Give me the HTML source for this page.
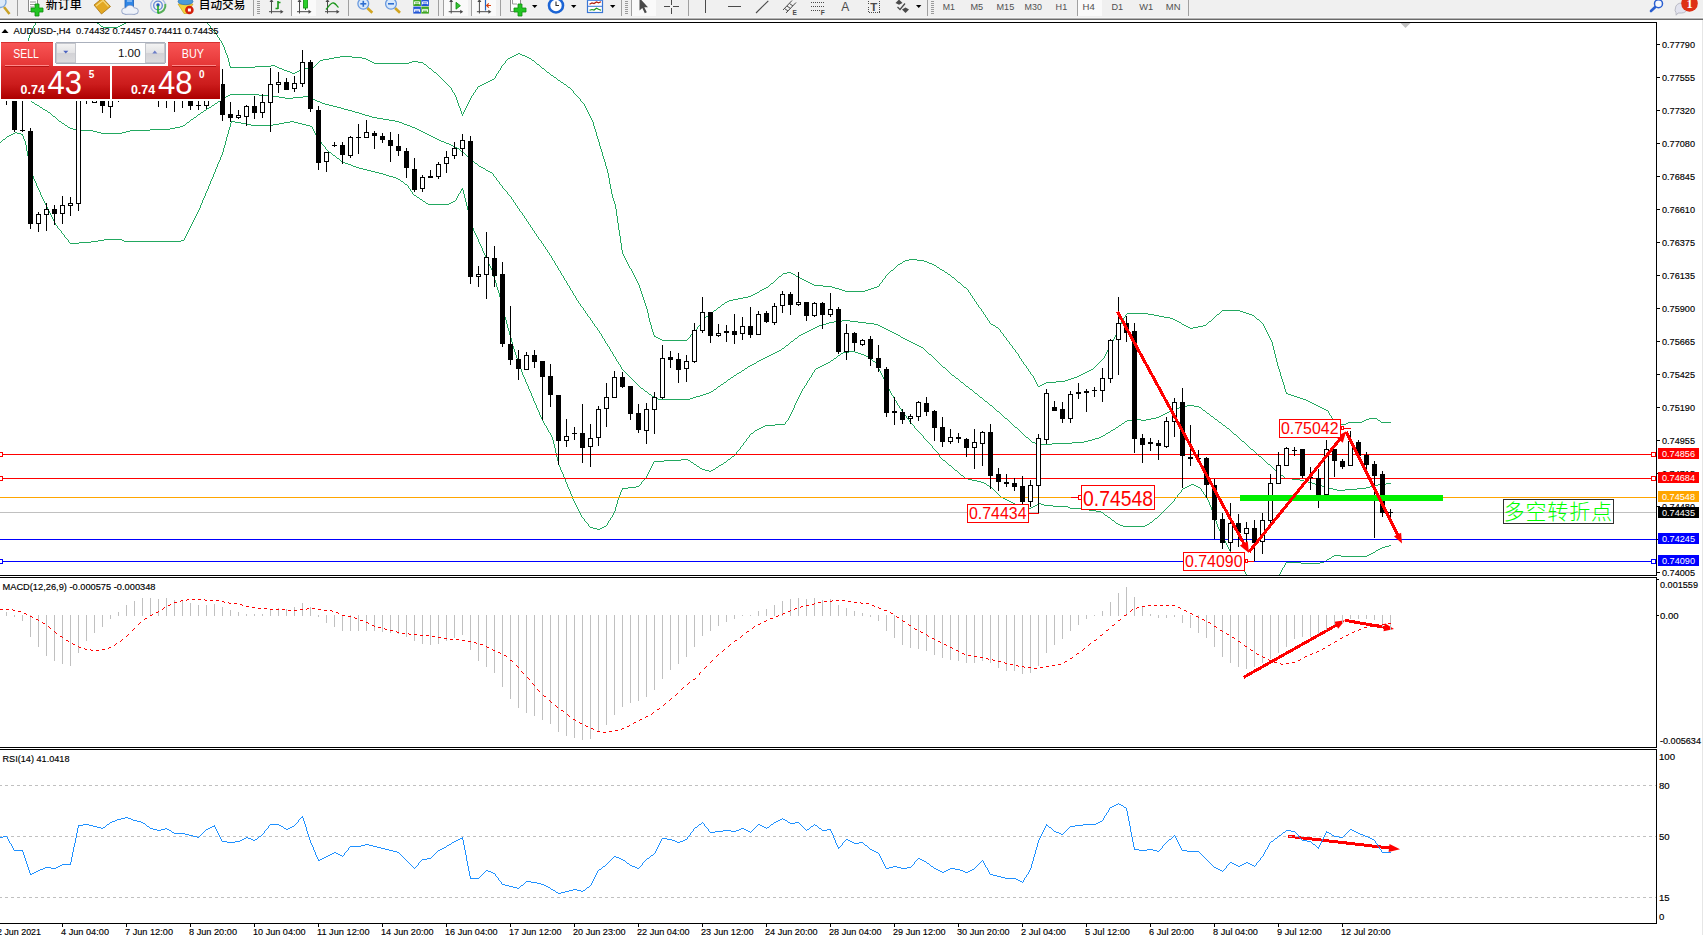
<!DOCTYPE html>
<html><head><meta charset="utf-8"><title>AUDUSD H4</title>
<style>
html,body{margin:0;padding:0;background:#fff}
body{width:1703px;height:935px;overflow:hidden;position:relative;font-family:"Liberation Sans","Noto Sans CJK SC",sans-serif}
#chart{position:absolute;left:0;top:0}
#chart text{font-family:"Liberation Sans","Noto Sans CJK SC",sans-serif}
#tb{position:absolute;left:0;top:0;width:1703px;height:17px;background:#f0f0f0;overflow:hidden}
#tbl{position:absolute;left:0;top:17px;width:1703px;height:3px;background:linear-gradient(#f6f6f6 0,#f6f6f6 33.3%,#b4b4b4 33.3%,#b4b4b4 66.6%,#6a6a6a 66.6%)}
#redge{position:absolute;left:1702px;top:20px;width:1px;height:915px;background:#e6e6e6}
</style></head><body>
<div id="tb"><svg width="1703" height="17" viewBox="0 0 1703 17" style="position:absolute;left:0;top:0;font-family:'Liberation Sans','Noto Sans CJK SC',sans-serif"><line x1="4" y1="7" x2="9.5" y2="14" stroke="#c9a227" stroke-width="2.5"/><circle cx="0.5" cy="2" r="5.5" fill="#dbe9f8" stroke="#7aa6dc" stroke-width="1.3"/><rect x="17" y="0" width="1" height="16" fill="#a0a0a0" shape-rendering="crispEdges"/><path d="M28.5 -2H37.5V11.5H28.5Z" fill="#fff" stroke="#8a8a8a"/><path d="M30 2H36M30 4.5H36M30 7H34" stroke="#9a9a9a" stroke-width="1"/><path d="M35 4H39V8H43V12H39V16H35V12H31V8H35Z" fill="#22c522" stroke="#0d8a0d" stroke-width="0.8"/><text x="45.8" y="9" font-size="12" font-weight="500" fill="#000" textLength="36" lengthAdjust="spacingAndGlyphs">新订单</text><path d="M94 5L102.5 -2L110.5 6.5L101.5 14Z" fill="#e3a823" stroke="#a87410" stroke-width="0.8"/><path d="M96 6L103 0.5L108.5 6.5" fill="none" stroke="#f6d778" stroke-width="1.2"/><rect x="125" y="-2" width="8.5" height="10" fill="#2f86e6" stroke="#1b5fb8" stroke-width="0.8"/><path d="M127 1H132" stroke="#cfe4fb" stroke-width="1"/><g fill="#eef2f9" stroke="#8a9cc4" stroke-width="1.6"><ellipse cx="125.5" cy="11" rx="3.300" ry="2.800"/><ellipse cx="130" cy="9.300" rx="4" ry="3.600"/><ellipse cx="134.500" cy="11" rx="3.300" ry="2.800"/><rect x="125.500" y="10.500" width="9" height="3.300"/></g><g fill="#eef2f9"><ellipse cx="125.5" cy="11" rx="3.300" ry="2.800"/><ellipse cx="130" cy="9.300" rx="4" ry="3.600"/><ellipse cx="134.500" cy="11" rx="3.300" ry="2.800"/><rect x="125.500" y="10.500" width="9" height="3.300"/></g><circle cx="158" cy="5.5" r="7.3" fill="none" stroke="#a9bce6" stroke-width="1.3"/><circle cx="158" cy="5.5" r="4.3" fill="none" stroke="#5f86d6" stroke-width="1.3"/><path d="M158 13A7.5 7.5 0 0 0 165.3 4" fill="none" stroke="#58b058" stroke-width="2"/><circle cx="158" cy="5" r="1.7" fill="#1f4fc4"/><path d="M158 5.5V13.5" stroke="#1fae1f" stroke-width="1.6"/><path d="M178 4H193L187 13.5H184Z" fill="#f2d33c" stroke="#c9a21c" stroke-width="0.7"/><ellipse cx="185.5" cy="1.5" rx="7.5" ry="3.2" fill="#4a9ad8" stroke="#2a70b4" stroke-width="0.7"/><circle cx="189.4" cy="10" r="4.3" fill="#d4200c"/><rect x="187.9" y="8.5" width="3" height="3" fill="#fff"/><text x="198.8" y="9" font-size="12" font-weight="500" fill="#000" textLength="46.5" lengthAdjust="spacingAndGlyphs">自动交易</text><rect x="253" y="0" width="1" height="16" fill="#a0a0a0" shape-rendering="crispEdges"/><rect x="257" y="1" width="3" height="1" fill="#9a9a9a" shape-rendering="crispEdges"/><rect x="257" y="3" width="3" height="1" fill="#9a9a9a" shape-rendering="crispEdges"/><rect x="257" y="5" width="3" height="1" fill="#9a9a9a" shape-rendering="crispEdges"/><rect x="257" y="7" width="3" height="1" fill="#9a9a9a" shape-rendering="crispEdges"/><rect x="257" y="9" width="3" height="1" fill="#9a9a9a" shape-rendering="crispEdges"/><rect x="257" y="11" width="3" height="1" fill="#9a9a9a" shape-rendering="crispEdges"/><rect x="257" y="13" width="3" height="1" fill="#9a9a9a" shape-rendering="crispEdges"/><path d="M271.5 0V13.5M269.0 11.7H282.0" stroke="#4a4a4a" stroke-width="1" fill="none"/><polygon points="280.5,9.7 283.5,11.7 280.5,13.7" fill="#4a4a4a"/><polygon points="269.5,2 271.5,-1 273.5,2" fill="#4a4a4a"/><path d="M278 1V9M275.5 8.5H278M278 2.5H280.5" stroke="#1a961a" stroke-width="1.6" fill="none"/><rect x="291" y="0" width="1" height="16" fill="#a0a0a0" shape-rendering="crispEdges"/><rect x="292" y="0" width="24" height="16" fill="#fafafa" shape-rendering="crispEdges"/><path d="M299.5 0V13.5M297.0 11.7H310.0" stroke="#4a4a4a" stroke-width="1" fill="none"/><polygon points="308.5,9.7 311.5,11.7 308.5,13.7" fill="#4a4a4a"/><polygon points="297.5,2 299.5,-1 301.5,2" fill="#4a4a4a"/><path d="M305.5 0V10" stroke="#0d7a0d" stroke-width="1"/><rect x="303.5" y="-1" width="4" height="9" fill="#2bd02b" stroke="#0d8a0d" stroke-width="0.8"/><path d="M327.5 0V13.5M325.0 11.7H338.0" stroke="#4a4a4a" stroke-width="1" fill="none"/><polygon points="336.5,9.7 339.5,11.7 336.5,13.7" fill="#4a4a4a"/><polygon points="325.5,2 327.5,-1 329.5,2" fill="#4a4a4a"/><path d="M326 9.5C329 6 331 2.5 333.5 3S336.500 6 338.5 7.500" stroke="#1a961a" stroke-width="1.3" fill="none"/><rect x="348" y="0" width="1" height="16" fill="#a0a0a0" shape-rendering="crispEdges"/><line x1="367.3" y1="8" x2="372.3" y2="12.8" stroke="#d2a520" stroke-width="2.6"/><circle cx="363.3" cy="3.8" r="5.4" fill="#d9e9fa" stroke="#6a9adf" stroke-width="1.3"/><path d="M360.3 3.8H366.3" stroke="#2f6fd0" stroke-width="1.6"/><path d="M363.3 0.8V6.8" stroke="#2f6fd0" stroke-width="1.6"/><line x1="395" y1="8" x2="400" y2="12.8" stroke="#d2a520" stroke-width="2.6"/><circle cx="391" cy="3.8" r="5.4" fill="#d9e9fa" stroke="#6a9adf" stroke-width="1.3"/><path d="M388 3.8H394" stroke="#2f6fd0" stroke-width="1.6"/><rect x="413.3" y="-1" width="7.6" height="7" fill="#3fa624"/><rect x="421.3" y="-1" width="7.6" height="7" fill="#2457d6"/><rect x="413.3" y="6.600" width="7.6" height="7" fill="#2457d6"/><rect x="421.3" y="6.600" width="7.6" height="7" fill="#3fa624"/><path d="M414.5 4.3V1.8H419.5V4.3M414.5 3.2H419.5" stroke="#fff" stroke-width="0.9" fill="none"/><path d="M414.5 11.899999999999999V9.4H419.5V11.899999999999999M414.5 10.8H419.5" stroke="#fff" stroke-width="0.9" fill="none"/><path d="M422.5 4.3V1.8H427.5V4.3M422.5 3.2H427.5" stroke="#fff" stroke-width="0.9" fill="none"/><path d="M422.5 11.899999999999999V9.4H427.5V11.899999999999999M422.5 10.8H427.5" stroke="#fff" stroke-width="0.9" fill="none"/><rect x="438" y="0" width="1" height="16" fill="#a0a0a0" shape-rendering="crispEdges"/><rect x="443" y="0" width="1" height="16" fill="#a0a0a0" shape-rendering="crispEdges"/><rect x="444" y="0" width="24" height="16" fill="#fafafa" shape-rendering="crispEdges"/><path d="M451.2 0V13.5M448.7 11.7H461.7" stroke="#4a4a4a" stroke-width="1" fill="none"/><polygon points="460.2,9.7 463.2,11.7 460.2,13.7" fill="#4a4a4a"/><polygon points="449.2,2 451.2,-1 453.2,2" fill="#4a4a4a"/><polygon points="456,2.3 456,9.2 460.4,5.700" fill="#35c435" stroke="#0d8a0d" stroke-width="0.8"/><rect x="471" y="0" width="1" height="16" fill="#a0a0a0" shape-rendering="crispEdges"/><rect x="472" y="0" width="24" height="16" fill="#fafafa" shape-rendering="crispEdges"/><path d="M479.4 0V13.5M476.9 11.7H489.9" stroke="#4a4a4a" stroke-width="1" fill="none"/><polygon points="488.4,9.7 491.4,11.7 488.4,13.7" fill="#4a4a4a"/><polygon points="477.4,2 479.4,-1 481.4,2" fill="#4a4a4a"/><path d="M485.500 0V10.500" stroke="#1f63c4" stroke-width="1.2"/><path d="M491 5.500H487M488.800 3.300L486.600 5.500L488.800 7.700" stroke="#d8400c" stroke-width="1.2" fill="none"/><rect x="500" y="0" width="1" height="16" fill="#a0a0a0" shape-rendering="crispEdges"/><path d="M510.500 -2H520.500V11.500H510.500Z" fill="#fff" stroke="#8a8a8a"/><path d="M512.500 -1V4H517" stroke="#9a9a9a" stroke-width="1" fill="none"/><path d="M518 4H522V8H526V12H522V16H518V12H514V8H518Z" fill="#22c522" stroke="#0d8a0d" stroke-width="0.8"/><polygon points="532,5 537.4,5 534.7,8" fill="#000"/><circle cx="556" cy="5.500" r="7" fill="#fff" stroke="#1c64d4" stroke-width="2.600"/><path d="M556 1.500V5.500H559" stroke="#333" stroke-width="1.1" fill="none"/><polygon points="571,5 576.4,5 573.7,8" fill="#000"/><rect x="587.500" y="-1.500" width="15" height="14" fill="#fff" stroke="#3a76d4" stroke-width="1.2"/><path d="M588 6.300H602" stroke="#3a76d4" stroke-width="1"/><rect x="587.500" y="-1.500" width="15" height="2.500" fill="#5a92e6"/><path d="M589.500 4.300L592 3L594 3.600L596.500 2L598.500 2.800L601 1.800" stroke="#b01c0c" stroke-width="1.2" fill="none"/><path d="M589.500 10.300L592 9.500L594 10L596.500 8.200L598.500 9.300L601 10.300" stroke="#1a961a" stroke-width="1.2" fill="none"/><polygon points="610,5 615.4,5 612.7,8" fill="#000"/><rect x="621" y="0" width="1" height="16" fill="#a0a0a0" shape-rendering="crispEdges"/><rect x="625" y="1" width="3" height="1" fill="#9a9a9a" shape-rendering="crispEdges"/><rect x="625" y="3" width="3" height="1" fill="#9a9a9a" shape-rendering="crispEdges"/><rect x="625" y="5" width="3" height="1" fill="#9a9a9a" shape-rendering="crispEdges"/><rect x="625" y="7" width="3" height="1" fill="#9a9a9a" shape-rendering="crispEdges"/><rect x="625" y="9" width="3" height="1" fill="#9a9a9a" shape-rendering="crispEdges"/><rect x="625" y="11" width="3" height="1" fill="#9a9a9a" shape-rendering="crispEdges"/><rect x="625" y="13" width="3" height="1" fill="#9a9a9a" shape-rendering="crispEdges"/><rect x="631" y="0" width="1" height="16" fill="#a0a0a0" shape-rendering="crispEdges"/><rect x="632" y="0" width="24" height="16" fill="#fafafa" shape-rendering="crispEdges"/><path d="M639.500 -2V10.500L642.300 8L644.800 13.300L646.800 12.300L644.300 7.200H648Z" fill="#4a4a4a"/><path d="M664 6.500H670M673 6.500H679M671.500 -1V5M671.500 8V14" stroke="#4a4a4a" stroke-width="1" shape-rendering="crispEdges"/><rect x="688" y="0" width="1" height="16" fill="#a0a0a0" shape-rendering="crispEdges"/><path d="M705.500 0V12.500M728 6.500H740.500" stroke="#4a4a4a" stroke-width="1" shape-rendering="crispEdges"/><path d="M756 13L768.300 0.800" stroke="#4a4a4a" stroke-width="1.1"/><path d="M783 10L792 0.500M786 13L796 2.500M784.500 8.500L788 11M787 6L790.500 8.500M789.500 3.500L793 6" stroke="#4a4a4a" stroke-width="1"/><text x="792.500" y="14.500" font-size="6.500" font-weight="bold" fill="#4a4a4a">E</text><path d="M811 2.5H824.500" stroke="#4a4a4a" stroke-width="1" stroke-dasharray="1 1" shape-rendering="crispEdges"/><path d="M811 6.5H824.500" stroke="#4a4a4a" stroke-width="1" stroke-dasharray="1 1" shape-rendering="crispEdges"/><path d="M811 10.5H824.500" stroke="#4a4a4a" stroke-width="1" stroke-dasharray="1 1" shape-rendering="crispEdges"/><rect x="820" y="9" width="6" height="7" fill="#f0f0f0"/><text x="820.800" y="14.500" font-size="6.500" font-weight="bold" fill="#4a4a4a">F</text><text x="841.300" y="11" font-size="12" fill="#4a4a4a">A</text><rect x="868.500" y="-0.500" width="11" height="13" fill="none" stroke="#4a4a4a" stroke-width="1" stroke-dasharray="1 1" shape-rendering="crispEdges"/><text x="870.300" y="10.800" font-size="11.500" font-weight="bold" fill="#4a4a4a">T</text><polygon points="895.500,3 899,-0.500 902.500,3 899,4.800" fill="#4a4a4a"/><polygon points="902,9.500 905.500,7.500 909,9.500 905.500,13" fill="#4a4a4a"/><path d="M897.500 7L900 9.500L905 3.500" stroke="#4a4a4a" stroke-width="1.3" fill="none"/><polygon points="916,5 921.4,5 918.7,8" fill="#000"/><rect x="927" y="0" width="1" height="16" fill="#a0a0a0" shape-rendering="crispEdges"/><rect x="931" y="1" width="3" height="1" fill="#9a9a9a" shape-rendering="crispEdges"/><rect x="931" y="3" width="3" height="1" fill="#9a9a9a" shape-rendering="crispEdges"/><rect x="931" y="5" width="3" height="1" fill="#9a9a9a" shape-rendering="crispEdges"/><rect x="931" y="7" width="3" height="1" fill="#9a9a9a" shape-rendering="crispEdges"/><rect x="931" y="9" width="3" height="1" fill="#9a9a9a" shape-rendering="crispEdges"/><rect x="931" y="11" width="3" height="1" fill="#9a9a9a" shape-rendering="crispEdges"/><rect x="931" y="13" width="3" height="1" fill="#9a9a9a" shape-rendering="crispEdges"/><rect x="1077" y="0" width="1" height="16" fill="#a0a0a0" shape-rendering="crispEdges"/><rect x="1078" y="0" width="24" height="16" fill="#fafafa" shape-rendering="crispEdges"/><text x="942.8" y="9.800" font-size="9.600" fill="#505050" textLength="12.2" lengthAdjust="spacingAndGlyphs">M1</text><text x="970.5" y="9.800" font-size="9.600" fill="#505050" textLength="12.7" lengthAdjust="spacingAndGlyphs">M5</text><text x="996.5" y="9.800" font-size="9.600" fill="#505050" textLength="17.7" lengthAdjust="spacingAndGlyphs">M15</text><text x="1024.6" y="9.800" font-size="9.600" fill="#505050" textLength="17.4" lengthAdjust="spacingAndGlyphs">M30</text><text x="1055.6" y="9.800" font-size="9.600" fill="#505050" textLength="11.6" lengthAdjust="spacingAndGlyphs">H1</text><text x="1082.5" y="9.800" font-size="9.600" fill="#505050" textLength="12.2" lengthAdjust="spacingAndGlyphs">H4</text><text x="1111.5" y="9.800" font-size="9.600" fill="#505050" textLength="11.7" lengthAdjust="spacingAndGlyphs">D1</text><text x="1139.2" y="9.800" font-size="9.600" fill="#505050" textLength="13.9" lengthAdjust="spacingAndGlyphs">W1</text><text x="1165.8" y="9.800" font-size="9.600" fill="#505050" textLength="14.7" lengthAdjust="spacingAndGlyphs">MN</text><rect x="1188" y="0" width="1" height="16" fill="#a0a0a0" shape-rendering="crispEdges"/><line x1="1655.800" y1="6.500" x2="1651" y2="11" stroke="#2a5fd0" stroke-width="2.600" stroke-linecap="round"/><circle cx="1658.500" cy="3.700" r="4" fill="#f6f8fd" stroke="#2a5fd0" stroke-width="1.500"/><path d="M1675.500 8a6 5 0 1 1 6 5l-3.500 0l-1.800 2.200l-0.200-2.600a6 5 0 0 1-0.500-4.600Z" fill="#e2e3ee" stroke="#b4b5c0" stroke-width="0.900"/><circle cx="1689.500" cy="3.500" r="8.300" fill="#de3015"/><text x="1689.500" y="8" font-size="12.500" font-weight="bold" font-family="'Liberation Serif',serif" fill="#fff" text-anchor="middle">1</text></svg></div><div id="tbl"></div><div id="redge"></div>
<svg id="chart" width="1703" height="935" viewBox="0 0 1703 935">
<defs><clipPath id="cm"><rect x="0" y="23" width="1656" height="552"/></clipPath><clipPath id="cd"><rect x="0" y="578" width="1656" height="169"/></clipPath><clipPath id="cr"><rect x="0" y="750" width="1656" height="173"/></clipPath></defs>
<g clip-path="url(#cm)" shape-rendering="crispEdges">
<rect x="0" y="512" width="1656" height="1" fill="#c0c0c0"/>
<path d="M26.5 44v2M27.5 41v3M28.5 38v3M29.5 35v3M30.5 32v3M31.5 30v2M32.5 28v2M33.5 26v2M34.5 25v1M35.5 23v2M36.5 22v1" stroke="#22a860" stroke-width="1" fill="none"/>
<path d="M97 23.5h2M124 23.5h2M122 24.5h2M120 25.5h2M101 26.5h2M118 26.5h2M103 27.5h15M96.5 22v1M99.5 24v1M100.5 25v1M126.5 22v1" stroke="#22a860" stroke-width="1" fill="none"/>
<path d="M518 53.5h2M516 54.5h2M520 54.5h2M514 55.5h2M522 55.5h3M340 56.5h12M512 56.5h2M525 56.5h2M334 57.5h6M352 57.5h10M510 57.5h2M527 57.5h2M329 58.5h5M362 58.5h4M508 58.5h2M529 58.5h2M323 59.5h6M366 59.5h2M320 60.5h3M368 60.5h2M532 60.5h2M370 61.5h2M412 61.5h6M372 62.5h2M409 62.5h3M418 62.5h5M374 63.5h35M424 64.5h2M537 64.5h2M271 65.5h4M255 66.5h16M275 66.5h2M230 67.5h25M277 67.5h2M311 67.5h3M279 68.5h3M305 68.5h6M429 68.5h2M542 68.5h2M282 69.5h2M301 69.5h4M284 70.5h3M299 70.5h2M287 71.5h3M297 71.5h2M290 72.5h2M295 72.5h2M434 72.5h2M547 72.5h2M292 73.5h3M551 75.5h2M554 77.5h2M492 79.5h2M490 80.5h2M558 80.5h2M488 81.5h2M486 82.5h2M561 82.5h2M484 83.5h2M482 84.5h2M564 84.5h2M480 85.5h2M478 86.5h2M568 87.5h2M909 259.5h8M905 260.5h4M917 260.5h7M903 261.5h2M924 261.5h3M927 262.5h2M900 263.5h2M929 263.5h3M898 264.5h2M932 264.5h2M934 265.5h2M937 267.5h2M940 269.5h2M891 270.5h2M942 270.5h2M787 272.5h4M945 272.5h2M783 273.5h4M791 273.5h2M793 274.5h2M948 274.5h2M779 276.5h2M796 276.5h2M798 277.5h2M952 277.5h2M800 278.5h2M802 279.5h2M804 280.5h2M806 281.5h2M808 282.5h2M958 282.5h2M771 283.5h2M810 283.5h2M812 284.5h2M814 285.5h9M823 286.5h9M877 286.5h2M766 287.5h2M832 287.5h3M874 287.5h3M964 287.5h2M764 288.5h2M835 288.5h4M871 288.5h3M762 289.5h2M839 289.5h3M868 289.5h3M760 290.5h2M842 290.5h3M865 290.5h3M845 291.5h20M757 292.5h2M755 293.5h2M753 294.5h2M751 295.5h2M748 296.5h3M743 297.5h5M738 298.5h5M733 299.5h5M729 300.5h4M727 301.5h2M725 302.5h2M722 304.5h2M718 307.5h2M714 310.5h2M1222 310.5h18M1240 311.5h3M1243 312.5h3M710 313.5h2M1127 313.5h21M1246 313.5h3M1148 314.5h6M1217 314.5h2M1249 314.5h3M1154 315.5h5M1252 315.5h2M706 316.5h2M1159 316.5h5M1164 317.5h6M1170 318.5h3M1173 319.5h2M1257 319.5h2M1175 320.5h2M1177 321.5h2M1209 321.5h2M1179 322.5h2M991 324.5h2M1182 324.5h2M993 325.5h2M1184 325.5h2M1203 325.5h3M1186 326.5h2M1198 326.5h5M996 327.5h2M1188 327.5h2M1193 327.5h5M1190 328.5h3M654 336.5h2M656 337.5h2M658 338.5h2M660 339.5h2M662 340.5h25M1091 369.5h2M1089 370.5h2M1087 371.5h2M1085 372.5h2M1083 373.5h2M1081 374.5h2M1079 375.5h2M1077 376.5h2M1074 377.5h3M1071 378.5h3M1068 379.5h3M1065 380.5h3M1056 381.5h9M1046 382.5h10M1044 383.5h2M1042 384.5h2M1040 385.5h2M1038 386.5h2M1286 393.5h2M1288 394.5h3M1291 395.5h3M1294 396.5h3M1297 397.5h3M1300 398.5h3M1303 399.5h3M1306 400.5h2M1308 401.5h2M1310 402.5h2M1312 403.5h2M1314 404.5h2M1316 405.5h2M1318 406.5h2M1320 407.5h2M1322 408.5h2M1324 409.5h2M1326 410.5h2M1369 418.5h8M1333 419.5h2M1366 419.5h3M1364 420.5h2M1378 420.5h2M1336 421.5h2M1362 421.5h2M1348 422.5h14M1381 422.5h10M1339 423.5h2M1346 423.5h2M1341 424.5h5M206.5 22v1M207.5 23v1M208.5 24v1M209.5 25v1M210.5 26v2M211.5 28v1M212.5 29v1M213.5 30v1M214.5 31v1M215.5 32v1M216.5 33v2M217.5 35v2M218.5 37v1M219.5 38v2M220.5 40v1M221.5 41v2M222.5 43v2M223.5 45v2M224.5 47v3M225.5 50v3M226.5 53v2M227.5 55v3M228.5 58v4M229.5 62v4M230.5 66v1M314.5 66v1M315.5 65v1M316.5 64v1M317.5 63v1M318.5 62v1M319.5 61v1M423.5 63v1M426.5 65v1M427.5 66v1M428.5 67v1M431.5 69v1M432.5 70v1M433.5 71v1M436.5 73v1M437.5 74v1M438.5 75v1M439.5 76v1M440.5 77v1M441.5 78v1M442.5 79v1M443.5 80v1M444.5 81v1M445.5 82v1M446.5 83v1M447.5 84v1M448.5 85v1M449.5 86v1M450.5 87v1M451.5 88v2M452.5 90v2M453.5 92v1M454.5 93v2M455.5 95v2M456.5 97v3M457.5 100v3M458.5 103v3M459.5 106v2M460.5 108v3M461.5 111v3M462.5 114v2M463.5 112v2M464.5 110v2M465.5 108v2M466.5 106v2M467.5 104v2M468.5 102v2M469.5 100v2M470.5 98v2M471.5 96v2M472.5 95v1M473.5 93v2M474.5 92v1M475.5 90v2M476.5 89v1M477.5 87v2M494.5 78v1M495.5 76v2M496.5 74v2M497.5 73v1M498.5 71v2M499.5 70v1M500.5 68v2M501.5 66v2M502.5 65v1M503.5 64v1M504.5 63v1M505.5 61v2M506.5 60v1M507.5 59v1M531.5 59v1M534.5 61v1M535.5 62v1M536.5 63v1M539.5 65v1M540.5 66v1M541.5 67v1M544.5 69v1M545.5 70v1M546.5 71v1M549.5 73v1M550.5 74v1M553.5 76v1M556.5 78v1M557.5 79v1M560.5 81v1M563.5 83v1M566.5 85v1M567.5 86v1M570.5 88v1M571.5 89v1M572.5 90v1M573.5 91v2M574.5 93v1M575.5 94v1M576.5 95v1M577.5 96v1M578.5 97v1M579.5 98v1M580.5 99v2M581.5 101v1M582.5 102v1M583.5 103v1M584.5 104v2M585.5 106v2M586.5 108v2M587.5 110v2M588.5 112v2M589.5 114v2M590.5 116v2M591.5 118v2M592.5 120v2M593.5 122v4M594.5 126v3M595.5 129v3M596.5 132v4M597.5 136v3M598.5 139v3M599.5 142v4M600.5 146v3M601.5 149v3M602.5 152v4M603.5 156v3M604.5 159v3M605.5 162v4M606.5 166v3M607.5 169v4M608.5 173v5M609.5 178v6M610.5 184v5M611.5 189v5M612.5 194v4M613.5 198v3M614.5 201v3M615.5 204v5M616.5 209v7M617.5 216v7M618.5 223v7M619.5 230v6M620.5 236v7M621.5 243v7M622.5 250v4M623.5 254v2M624.5 256v2M625.5 258v2M626.5 260v2M627.5 262v2M628.5 264v2M629.5 266v2M630.5 268v1M631.5 269v2M632.5 271v2M633.5 273v2M634.5 275v2M635.5 277v2M636.5 279v2M637.5 281v2M638.5 283v2M639.5 285v3M640.5 288v3M641.5 291v3M642.5 294v3M643.5 297v3M644.5 300v3M645.5 303v3M646.5 306v3M647.5 309v4M648.5 313v5M649.5 318v4M650.5 322v3M651.5 325v4M652.5 329v3M653.5 332v3M654.5 335v1M687.5 339v1M688.5 338v1M689.5 337v1M690.5 335v2M691.5 334v1M692.5 333v1M693.5 332v1M694.5 331v1M695.5 330v1M696.5 329v1M697.5 327v2M698.5 326v1M699.5 325v1M700.5 323v2M701.5 322v1M702.5 321v1M703.5 319v2M704.5 318v1M705.5 317v1M708.5 315v1M709.5 314v1M712.5 312v1M713.5 311v1M716.5 309v1M717.5 308v1M720.5 306v1M721.5 305v1M724.5 303v1M759.5 291v1M768.5 286v1M769.5 285v1M770.5 284v1M773.5 282v1M774.5 281v1M775.5 280v1M776.5 279v1M777.5 278v1M778.5 277v1M781.5 275v1M782.5 274v1M795.5 275v1M879.5 284v2M880.5 283v1M881.5 282v1M882.5 280v2M883.5 279v1M884.5 278v1M885.5 276v2M886.5 275v1M887.5 274v1M888.5 273v1M889.5 272v1M890.5 271v1M893.5 269v1M894.5 268v1M895.5 267v1M896.5 266v1M897.5 265v1M902.5 262v1M936.5 266v1M939.5 268v1M944.5 271v1M947.5 273v1M950.5 275v1M951.5 276v1M954.5 278v1M955.5 279v1M956.5 280v1M957.5 281v1M960.5 283v1M961.5 284v1M962.5 285v1M963.5 286v1M966.5 288v1M967.5 289v1M968.5 290v2M969.5 292v1M970.5 293v2M971.5 295v1M972.5 296v2M973.5 298v1M974.5 299v2M975.5 301v1M976.5 302v2M977.5 304v1M978.5 305v2M979.5 307v1M980.5 308v1M981.5 309v2M982.5 311v1M983.5 312v2M984.5 314v1M985.5 315v2M986.5 317v1M987.5 318v2M988.5 320v1M989.5 321v2M990.5 323v1M995.5 326v1M998.5 328v1M999.5 329v1M1000.5 330v2M1001.5 332v1M1002.5 333v1M1003.5 334v2M1004.5 336v1M1005.5 337v1M1006.5 338v2M1007.5 340v1M1008.5 341v1M1009.5 342v2M1010.5 344v1M1011.5 345v1M1012.5 346v2M1013.5 348v1M1014.5 349v1M1015.5 350v2M1016.5 352v1M1017.5 353v1M1018.5 354v2M1019.5 356v2M1020.5 358v1M1021.5 359v2M1022.5 361v1M1023.5 362v2M1024.5 364v1M1025.5 365v1M1026.5 366v2M1027.5 368v1M1028.5 369v2M1029.5 371v1M1030.5 372v2M1031.5 374v1M1032.5 375v1M1033.5 376v2M1034.5 378v2M1035.5 380v2M1036.5 382v2M1037.5 384v2M1093.5 368v1M1094.5 367v1M1095.5 366v1M1096.5 365v1M1097.5 364v1M1098.5 363v1M1099.5 362v1M1100.5 361v1M1101.5 360v1M1102.5 359v1M1103.5 358v1M1104.5 356v2M1105.5 354v2M1106.5 352v2M1107.5 350v2M1108.5 348v2M1109.5 346v2M1110.5 345v1M1111.5 343v2M1112.5 341v2M1113.5 339v2M1114.5 337v2M1115.5 335v2M1116.5 333v2M1117.5 331v2M1118.5 329v2M1119.5 327v2M1120.5 324v3M1121.5 322v2M1122.5 320v2M1123.5 318v2M1124.5 317v1M1125.5 315v2M1126.5 314v1M1181.5 323v1M1206.5 324v1M1207.5 323v1M1208.5 322v1M1211.5 320v1M1212.5 319v1M1213.5 318v1M1214.5 317v1M1215.5 316v1M1216.5 315v1M1219.5 313v1M1220.5 312v1M1221.5 311v1M1254.5 316v1M1255.5 317v1M1256.5 318v1M1259.5 320v1M1260.5 321v1M1261.5 322v1M1262.5 323v1M1263.5 324v2M1264.5 326v2M1265.5 328v2M1266.5 330v2M1267.5 332v2M1268.5 334v2M1269.5 336v2M1270.5 338v2M1271.5 340v2M1272.5 342v4M1273.5 346v4M1274.5 350v4M1275.5 354v4M1276.5 358v4M1277.5 362v4M1278.5 366v3M1279.5 369v3M1280.5 372v4M1281.5 376v3M1282.5 379v3M1283.5 382v3M1284.5 385v4M1285.5 389v3M1286.5 392v1M1328.5 411v2M1329.5 413v2M1330.5 415v1M1331.5 416v2M1332.5 418v1M1335.5 420v1M1338.5 422v1M1377.5 419v1M1380.5 421v1" stroke="#22a860" stroke-width="1" fill="none"/>
<path d="M16 91.5h2M19 93.5h2M230 94.5h29M22 95.5h2M228 95.5h2M259 95.5h14M226 96.5h2M273 96.5h6M303 96.5h6M279 97.5h6M293 97.5h10M309 97.5h2M26 98.5h2M223 98.5h2M285 98.5h8M311 98.5h2M313 99.5h2M29 100.5h2M220 100.5h2M315 100.5h2M218 101.5h2M317 101.5h3M32 102.5h2M320 102.5h2M215 103.5h2M322 103.5h3M35 104.5h2M325 104.5h4M37 105.5h2M212 105.5h2M329 105.5h4M333 106.5h4M40 107.5h2M209 107.5h2M337 107.5h4M207 108.5h2M341 108.5h3M43 109.5h2M344 109.5h4M45 110.5h2M204 110.5h2M348 110.5h4M352 111.5h3M48 112.5h2M201 112.5h2M355 112.5h4M359 113.5h3M198 114.5h2M362 114.5h3M365 115.5h4M53 116.5h2M369 116.5h3M194 117.5h2M372 117.5h5M377 118.5h6M191 119.5h2M383 119.5h6M389 120.5h6M59 121.5h2M395 121.5h4M187 122.5h2M399 122.5h3M62 123.5h2M402 123.5h2M404 124.5h3M65 125.5h2M183 125.5h2M407 125.5h3M180 126.5h3M410 126.5h2M68 127.5h2M175 127.5h5M412 127.5h3M70 128.5h3M170 128.5h5M415 128.5h2M73 129.5h5M150 129.5h20M417 129.5h2M78 130.5h15M130 130.5h20M419 130.5h2M93 131.5h4M126 131.5h4M421 131.5h2M97 132.5h4M122 132.5h4M423 132.5h2M101 133.5h21M425 133.5h2M427 134.5h2M429 135.5h2M431 136.5h2M433 137.5h2M435 138.5h2M437 139.5h2M439 140.5h2M441 141.5h3M444 142.5h2M446 143.5h3M449 144.5h2M451 145.5h2M453 146.5h2M455 147.5h2M457 148.5h2M462 152.5h2M470 159.5h2M475 163.5h2M479 166.5h2M481 167.5h2M483 168.5h2M486 170.5h2M488 171.5h2M490 172.5h2M842 320.5h8M834 321.5h8M850 321.5h8M829 322.5h5M858 322.5h8M826 323.5h3M866 323.5h8M822 324.5h4M874 324.5h4M819 325.5h3M878 325.5h2M817 326.5h2M880 326.5h2M815 327.5h2M882 327.5h2M813 328.5h2M884 328.5h2M811 329.5h2M886 329.5h2M809 330.5h2M888 330.5h2M807 331.5h2M890 331.5h2M805 332.5h2M892 332.5h2M803 333.5h2M894 333.5h2M801 334.5h2M896 334.5h2M799 335.5h2M898 335.5h2M901 337.5h2M795 338.5h2M903 338.5h2M905 339.5h2M907 340.5h2M791 341.5h2M909 341.5h2M911 342.5h2M913 343.5h2M915 344.5h2M786 345.5h2M917 345.5h2M919 346.5h2M921 347.5h2M782 348.5h2M779 350.5h2M777 351.5h2M775 352.5h2M773 353.5h2M771 354.5h2M929 354.5h2M769 355.5h2M767 356.5h2M765 357.5h2M763 358.5h2M761 359.5h2M759 360.5h2M757 361.5h2M754 363.5h2M752 364.5h2M750 365.5h2M748 366.5h2M943 367.5h2M745 368.5h2M742 370.5h2M739 372.5h2M737 373.5h2M734 375.5h2M952 375.5h2M731 377.5h2M956 378.5h2M728 379.5h2M724 382.5h2M961 382.5h2M721 384.5h2M718 386.5h2M966 386.5h2M641 388.5h2M714 389.5h2M970 389.5h2M645 391.5h2M711 391.5h2M709 392.5h2M706 393.5h3M975 393.5h2M649 394.5h2M703 394.5h3M700 395.5h3M652 396.5h2M696 396.5h4M654 397.5h2M693 397.5h3M980 397.5h2M656 398.5h2M690 398.5h3M658 399.5h32M985 401.5h2M990 405.5h2M1187 405.5h7M1183 406.5h4M1194 406.5h5M1179 407.5h4M1199 407.5h2M1175 408.5h4M1173 409.5h2M1171 410.5h2M1203 410.5h2M997 411.5h2M1169 411.5h2M1167 412.5h2M1165 413.5h2M1207 413.5h2M1163 414.5h2M1161 415.5h2M1159 416.5h2M1211 416.5h2M1156 417.5h3M1005 418.5h2M1151 418.5h5M1133 419.5h8M1146 419.5h5M1215 419.5h2M1127 420.5h6M1141 420.5h5M1125 421.5h2M1219 422.5h2M1122 423.5h2M1119 425.5h2M1223 425.5h2M1015 427.5h2M1116 427.5h2M1227 428.5h2M1113 429.5h2M1111 430.5h2M1108 432.5h2M1106 433.5h2M1234 434.5h2M1103 435.5h2M1101 436.5h2M1026 437.5h2M1099 437.5h2M1095 438.5h4M1092 439.5h3M1088 440.5h4M1084 441.5h4M1242 441.5h2M1032 442.5h3M1072 442.5h12M1035 443.5h5M1052 443.5h20M1040 444.5h12M1251 449.5h2M1259 456.5h2M1268 464.5h2M1275 470.5h2M1281 475.5h2M1285 478.5h7M1292 479.5h8M1300 480.5h4M1304 481.5h4M1308 482.5h4M1312 483.5h3M1386 483.5h5M1315 484.5h4M1378 484.5h8M1319 485.5h3M1374 485.5h4M1322 486.5h3M1370 486.5h4M1325 487.5h4M1366 487.5h4M1329 488.5h4M1357 488.5h9M1333 489.5h4M1345 489.5h12M1337 490.5h8M0.5 75v1M1.5 76v1M2.5 77v1M3.5 78v1M4.5 79v1M5.5 80v1M6.5 81v1M7.5 82v1M8.5 83v1M9.5 84v1M10.5 85v1M11.5 86v1M12.5 87v1M13.5 88v1M14.5 89v1M15.5 90v1M18.5 92v1M21.5 94v1M24.5 96v1M25.5 97v1M28.5 99v1M31.5 101v1M34.5 103v1M39.5 106v1M42.5 108v1M47.5 111v1M50.5 113v1M51.5 114v1M52.5 115v1M55.5 117v1M56.5 118v1M57.5 119v1M58.5 120v1M61.5 122v1M64.5 124v1M67.5 126v1M185.5 124v1M186.5 123v1M189.5 121v1M190.5 120v1M193.5 118v1M196.5 116v1M197.5 115v1M200.5 113v1M203.5 111v1M206.5 109v1M211.5 106v1M214.5 104v1M217.5 102v1M222.5 99v1M225.5 97v1M459.5 149v1M460.5 150v1M461.5 151v1M464.5 153v1M465.5 154v1M466.5 155v1M467.5 156v1M468.5 157v1M469.5 158v1M472.5 160v1M473.5 161v1M474.5 162v1M477.5 164v1M478.5 165v1M485.5 169v1M492.5 173v1M493.5 174v2M494.5 176v1M495.5 177v1M496.5 178v2M497.5 180v1M498.5 181v1M499.5 182v2M500.5 184v1M501.5 185v1M502.5 186v2M503.5 188v1M504.5 189v1M505.5 190v1M506.5 191v1M507.5 192v2M508.5 194v1M509.5 195v1M510.5 196v1M511.5 197v2M512.5 199v1M513.5 200v2M514.5 202v1M515.5 203v2M516.5 205v1M517.5 206v2M518.5 208v1M519.5 209v2M520.5 211v1M521.5 212v1M522.5 213v2M523.5 215v1M524.5 216v2M525.5 218v1M526.5 219v2M527.5 221v1M528.5 222v2M529.5 224v1M530.5 225v2M531.5 227v1M532.5 228v2M533.5 230v1M534.5 231v2M535.5 233v1M536.5 234v2M537.5 236v1M538.5 237v2M539.5 239v1M540.5 240v1M541.5 241v2M542.5 243v1M543.5 244v2M544.5 246v1M545.5 247v2M546.5 249v1M547.5 250v2M548.5 252v1M549.5 253v2M550.5 255v1M551.5 256v2M552.5 258v2M553.5 260v1M554.5 261v2M555.5 263v2M556.5 265v1M557.5 266v2M558.5 268v2M559.5 270v1M560.5 271v2M561.5 273v2M562.5 275v1M563.5 276v2M564.5 278v2M565.5 280v1M566.5 281v2M567.5 283v2M568.5 285v1M569.5 286v2M570.5 288v2M571.5 290v1M572.5 291v2M573.5 293v2M574.5 295v1M575.5 296v2M576.5 298v2M577.5 300v1M578.5 301v2M579.5 303v1M580.5 304v2M581.5 306v1M582.5 307v1M583.5 308v2M584.5 310v1M585.5 311v2M586.5 313v1M587.5 314v2M588.5 316v1M589.5 317v1M590.5 318v2M591.5 320v1M592.5 321v2M593.5 323v1M594.5 324v2M595.5 326v1M596.5 327v1M597.5 328v2M598.5 330v1M599.5 331v2M600.5 333v1M601.5 334v2M602.5 336v2M603.5 338v1M604.5 339v2M605.5 341v2M606.5 343v1M607.5 344v2M608.5 346v1M609.5 347v2M610.5 349v2M611.5 351v1M612.5 352v2M613.5 354v2M614.5 356v1M615.5 357v2M616.5 359v2M617.5 361v1M618.5 362v2M619.5 364v1M620.5 365v2M621.5 367v2M622.5 369v1M623.5 370v1M624.5 371v1M625.5 372v1M626.5 373v1M627.5 374v1M628.5 375v1M629.5 376v1M630.5 377v1M631.5 378v1M632.5 379v1M633.5 380v1M634.5 381v1M635.5 382v1M636.5 383v1M637.5 384v1M638.5 385v1M639.5 386v1M640.5 387v1M643.5 389v1M644.5 390v1M647.5 392v1M648.5 393v1M651.5 395v1M713.5 390v1M716.5 388v1M717.5 387v1M720.5 385v1M723.5 383v1M726.5 381v1M727.5 380v1M730.5 378v1M733.5 376v1M736.5 374v1M741.5 371v1M744.5 369v1M747.5 367v1M756.5 362v1M781.5 349v1M784.5 347v1M785.5 346v1M788.5 344v1M789.5 343v1M790.5 342v1M793.5 340v1M794.5 339v1M797.5 337v1M798.5 336v1M900.5 336v1M923.5 348v1M924.5 349v1M925.5 350v1M926.5 351v1M927.5 352v1M928.5 353v1M931.5 355v1M932.5 356v1M933.5 357v1M934.5 358v1M935.5 359v1M936.5 360v1M937.5 361v1M938.5 362v1M939.5 363v1M940.5 364v1M941.5 365v1M942.5 366v1M945.5 368v1M946.5 369v1M947.5 370v1M948.5 371v1M949.5 372v1M950.5 373v1M951.5 374v1M954.5 376v1M955.5 377v1M958.5 379v1M959.5 380v1M960.5 381v1M963.5 383v1M964.5 384v1M965.5 385v1M968.5 387v1M969.5 388v1M972.5 390v1M973.5 391v1M974.5 392v1M977.5 394v1M978.5 395v1M979.5 396v1M982.5 398v1M983.5 399v1M984.5 400v1M987.5 402v1M988.5 403v1M989.5 404v1M992.5 406v1M993.5 407v1M994.5 408v1M995.5 409v1M996.5 410v1M999.5 412v1M1000.5 413v1M1001.5 414v1M1002.5 415v1M1003.5 416v1M1004.5 417v1M1007.5 419v1M1008.5 420v1M1009.5 421v1M1010.5 422v1M1011.5 423v1M1012.5 424v1M1013.5 425v1M1014.5 426v1M1017.5 428v1M1018.5 429v1M1019.5 430v1M1020.5 431v1M1021.5 432v1M1022.5 433v1M1023.5 434v1M1024.5 435v1M1025.5 436v1M1028.5 438v1M1029.5 439v1M1030.5 440v1M1031.5 441v1M1105.5 434v1M1110.5 431v1M1115.5 428v1M1118.5 426v1M1121.5 424v1M1124.5 422v1M1201.5 408v1M1202.5 409v1M1205.5 411v1M1206.5 412v1M1209.5 414v1M1210.5 415v1M1213.5 417v1M1214.5 418v1M1217.5 420v1M1218.5 421v1M1221.5 423v1M1222.5 424v1M1225.5 426v1M1226.5 427v1M1229.5 429v1M1230.5 430v1M1231.5 431v1M1232.5 432v1M1233.5 433v1M1236.5 435v1M1237.5 436v1M1238.5 437v1M1239.5 438v1M1240.5 439v1M1241.5 440v1M1244.5 442v1M1245.5 443v1M1246.5 444v1M1247.5 445v1M1248.5 446v1M1249.5 447v1M1250.5 448v1M1253.5 450v1M1254.5 451v1M1255.5 452v1M1256.5 453v1M1257.5 454v1M1258.5 455v1M1261.5 457v1M1262.5 458v1M1263.5 459v1M1264.5 460v1M1265.5 461v1M1266.5 462v1M1267.5 463v1M1270.5 465v1M1271.5 466v1M1272.5 467v1M1273.5 468v1M1274.5 469v1M1277.5 471v1M1278.5 472v1M1279.5 473v1M1280.5 474v1M1283.5 476v1M1284.5 477v1" stroke="#22a860" stroke-width="1" fill="none"/>
<path d="M231 121.5h4M290 121.5h4M235 122.5h6M284 122.5h6M294 122.5h4M241 123.5h5M279 123.5h5M298 123.5h4M246 124.5h5M273 124.5h6M302 124.5h4M251 125.5h22M306 125.5h4M310 126.5h2M15 132.5h2M13 133.5h2M17 133.5h4M11 134.5h2M21 134.5h2M9 135.5h2M7 136.5h2M3 139.5h2M329 152.5h2M333 155.5h2M337 158.5h2M341 161.5h2M343 162.5h2M345 163.5h3M348 164.5h3M351 165.5h2M353 166.5h3M356 167.5h3M359 168.5h4M363 169.5h4M367 170.5h4M371 171.5h4M375 172.5h4M379 173.5h4M383 174.5h3M386 175.5h3M389 176.5h4M393 177.5h3M396 178.5h2M398 179.5h2M401 181.5h2M405 184.5h2M461 189.5h2M414 195.5h2M417 197.5h2M420 199.5h2M423 201.5h2M453 201.5h2M451 202.5h2M426 203.5h2M449 203.5h2M428 204.5h21M104 239.5h18M98 240.5h6M122 240.5h2M181 240.5h3M91 241.5h7M124 241.5h57M79 242.5h12M70 243.5h9M849 351.5h6M843 352.5h6M855 352.5h3M841 353.5h2M858 353.5h3M861 354.5h3M838 355.5h2M864 355.5h2M866 356.5h2M834 358.5h2M869 358.5h2M831 360.5h2M873 361.5h2M828 362.5h2M826 363.5h2M824 364.5h2M822 365.5h2M820 366.5h2M818 367.5h2M816 368.5h2M775 424.5h10M765 425.5h10M763 426.5h2M761 427.5h2M759 428.5h2M757 429.5h2M755 430.5h2M751 433.5h2M732 456.5h2M681 459.5h7M728 459.5h2M664 460.5h17M688 460.5h2M943 460.5h2M654 461.5h10M691 462.5h2M724 462.5h2M694 464.5h2M721 464.5h2M719 465.5h2M949 465.5h2M697 466.5h2M716 467.5h2M700 468.5h2M702 469.5h3M713 469.5h2M705 470.5h4M711 470.5h2M955 470.5h2M709 471.5h2M961 475.5h2M965 478.5h3M968 479.5h4M972 480.5h5M977 481.5h4M981 482.5h3M984 483.5h2M1191 484.5h3M987 485.5h2M1189 485.5h2M1194 485.5h2M636 486.5h3M1187 486.5h2M1196 486.5h2M628 487.5h8M990 487.5h2M1185 487.5h2M1198 487.5h2M622 488.5h6M1183 488.5h2M1001 497.5h2M1003 498.5h2M1005 499.5h2M1007 500.5h2M1009 501.5h2M1011 502.5h2M1013 503.5h2M1039 503.5h2M1015 504.5h2M1037 504.5h2M1041 504.5h3M1017 505.5h4M1035 505.5h2M1044 505.5h9M1021 506.5h4M1033 506.5h2M1053 506.5h15M1025 507.5h4M1031 507.5h2M1068 507.5h2M1029 508.5h2M1070 508.5h14M1084 509.5h5M1089 510.5h7M1096 511.5h5M1101 512.5h2M1105 515.5h2M1108 517.5h2M1155 518.5h2M1112 520.5h2M1150 522.5h2M1116 523.5h2M1118 524.5h2M1147 524.5h2M1120 525.5h3M1145 525.5h2M604 526.5h2M1123 526.5h22M590 527.5h3M602 527.5h2M593 528.5h4M600 528.5h2M597 529.5h3M1389 545.5h2M1385 546.5h4M1382 547.5h3M1380 548.5h2M1378 549.5h2M1376 550.5h2M1373 552.5h2M1371 553.5h2M1369 554.5h2M1334 555.5h7M1367 555.5h2M1332 556.5h2M1341 556.5h26M1329 558.5h2M1327 559.5h2M1324 561.5h2M1286 562.5h15M1320 562.5h4M1301 563.5h19M1250 582.5h26M0.5 142v1M1.5 141v1M2.5 140v1M5.5 138v1M6.5 137v1M22.5 135v1M23.5 136v3M24.5 139v2M25.5 141v4M26.5 145v6M27.5 151v5M28.5 156v4M29.5 160v4M30.5 164v4M31.5 168v4M32.5 172v4M33.5 176v3M34.5 179v2M35.5 181v2M36.5 183v3M37.5 186v2M38.5 188v2M39.5 190v2M40.5 192v3M41.5 195v2M42.5 197v2M43.5 199v2M44.5 201v2M45.5 203v2M46.5 205v2M47.5 207v2M48.5 209v2M49.5 211v2M50.5 213v2M51.5 215v2M52.5 217v2M53.5 219v2M54.5 221v2M55.5 223v2M56.5 225v1M57.5 226v2M58.5 228v1M59.5 229v1M60.5 230v1M61.5 231v2M62.5 233v1M63.5 234v1M64.5 235v2M65.5 237v1M66.5 238v1M67.5 239v1M68.5 240v2M69.5 242v1M184.5 238v2M185.5 236v2M186.5 234v2M187.5 232v2M188.5 230v2M189.5 228v2M190.5 226v2M191.5 224v2M192.5 222v2M193.5 220v2M194.5 218v2M195.5 216v2M196.5 214v2M197.5 212v2M198.5 210v2M199.5 208v2M200.5 205v3M201.5 203v2M202.5 200v3M203.5 198v2M204.5 196v2M205.5 193v3M206.5 191v2M207.5 189v2M208.5 186v3M209.5 184v2M210.5 181v3M211.5 179v2M212.5 177v2M213.5 174v3M214.5 172v2M215.5 169v3M216.5 167v2M217.5 164v3M218.5 162v2M219.5 160v2M220.5 157v3M221.5 155v2M222.5 152v3M223.5 148v4M224.5 145v3M225.5 141v4M226.5 137v4M227.5 134v3M228.5 130v4M229.5 127v3M230.5 123v4M231.5 122v1M312.5 127v2M313.5 129v2M314.5 131v2M315.5 133v2M316.5 135v1M317.5 136v2M318.5 138v1M319.5 139v2M320.5 141v1M321.5 142v2M322.5 144v1M323.5 145v1M324.5 146v1M325.5 147v2M326.5 149v1M327.5 150v1M328.5 151v1M331.5 153v1M332.5 154v1M335.5 156v1M336.5 157v1M339.5 159v1M340.5 160v1M400.5 180v1M403.5 182v1M404.5 183v1M407.5 185v1M408.5 186v2M409.5 188v1M410.5 189v2M411.5 191v1M412.5 192v2M413.5 194v1M416.5 196v1M419.5 198v1M422.5 200v1M425.5 202v1M455.5 200v1M456.5 198v2M457.5 196v2M458.5 194v2M459.5 193v1M460.5 191v2M461.5 190v1M462.5 188v1M463.5 190v4M464.5 194v4M465.5 198v4M466.5 202v4M467.5 206v4M468.5 210v3M469.5 213v4M470.5 217v4M471.5 221v3M472.5 224v4M473.5 228v3M474.5 231v2M475.5 233v2M476.5 235v2M477.5 237v2M478.5 239v3M479.5 242v2M480.5 244v2M481.5 246v2M482.5 248v3M483.5 251v2M484.5 253v2M485.5 255v2M486.5 257v2M487.5 259v3M488.5 262v2M489.5 264v2M490.5 266v2M491.5 268v2M492.5 270v3M493.5 273v4M494.5 277v3M495.5 280v3M496.5 283v4M497.5 287v3M498.5 290v3M499.5 293v4M500.5 297v4M501.5 301v4M502.5 305v4M503.5 309v4M504.5 313v4M505.5 317v3M506.5 320v4M507.5 324v4M508.5 328v3M509.5 331v4M510.5 335v3M511.5 338v4M512.5 342v4M513.5 346v3M514.5 349v3M515.5 352v3M516.5 355v3M517.5 358v3M518.5 361v2M519.5 363v3M520.5 366v3M521.5 369v3M522.5 372v3M523.5 375v2M524.5 377v2M525.5 379v3M526.5 382v2M527.5 384v2M528.5 386v3M529.5 389v2M530.5 391v2M531.5 393v3M532.5 396v2M533.5 398v3M534.5 401v2M535.5 403v2M536.5 405v3M537.5 408v2M538.5 410v2M539.5 412v3M540.5 415v2M541.5 417v2M542.5 419v2M543.5 421v2M544.5 423v2M545.5 425v1M546.5 426v2M547.5 428v2M548.5 430v2M549.5 432v1M550.5 433v2M551.5 435v2M552.5 437v3M553.5 440v4M554.5 444v4M555.5 448v5M556.5 453v4M557.5 457v4M558.5 461v4M559.5 465v2M560.5 467v3M561.5 470v2M562.5 472v2M563.5 474v3M564.5 477v2M565.5 479v3M566.5 482v2M567.5 484v3M568.5 487v2M569.5 489v2M570.5 491v3M571.5 494v2M572.5 496v3M573.5 499v2M574.5 501v2M575.5 503v2M576.5 505v2M577.5 507v2M578.5 509v2M579.5 511v2M580.5 513v2M581.5 515v2M582.5 517v1M583.5 518v1M584.5 519v2M585.5 521v1M586.5 522v1M587.5 523v1M588.5 524v2M589.5 526v1M606.5 525v1M607.5 523v2M608.5 521v2M609.5 520v1M610.5 518v2M611.5 517v1M612.5 515v2M613.5 513v2M614.5 511v2M615.5 507v4M616.5 504v3M617.5 500v4M618.5 497v3M619.5 495v2M620.5 492v3M621.5 490v2M622.5 489v1M639.5 485v1M640.5 484v1M641.5 482v2M642.5 481v1M643.5 480v1M644.5 479v1M645.5 478v1M646.5 476v2M647.5 474v2M648.5 472v2M649.5 470v2M650.5 468v2M651.5 466v2M652.5 464v2M653.5 462v2M690.5 461v1M693.5 463v1M696.5 465v1M699.5 467v1M715.5 468v1M718.5 466v1M723.5 463v1M726.5 461v1M727.5 460v1M730.5 458v1M731.5 457v1M734.5 455v1M735.5 454v1M736.5 452v2M737.5 451v1M738.5 450v1M739.5 449v1M740.5 447v2M741.5 446v1M742.5 445v1M743.5 443v2M744.5 442v1M745.5 441v1M746.5 439v2M747.5 438v1M748.5 437v1M749.5 435v2M750.5 434v1M753.5 432v1M754.5 431v1M785.5 422v2M786.5 421v1M787.5 420v1M788.5 418v2M789.5 416v2M790.5 414v2M791.5 412v2M792.5 410v2M793.5 408v2M794.5 405v3M795.5 403v2M796.5 401v2M797.5 399v2M798.5 397v2M799.5 395v2M800.5 393v2M801.5 391v2M802.5 389v2M803.5 388v1M804.5 386v2M805.5 385v1M806.5 383v2M807.5 381v2M808.5 380v1M809.5 378v2M810.5 377v1M811.5 375v2M812.5 373v2M813.5 372v1M814.5 370v2M815.5 369v1M830.5 361v1M833.5 359v1M836.5 357v1M837.5 356v1M840.5 354v1M868.5 357v1M871.5 359v1M872.5 360v1M875.5 362v1M876.5 363v2M877.5 365v2M878.5 367v2M879.5 369v2M880.5 371v2M881.5 373v2M882.5 375v2M883.5 377v2M884.5 379v2M885.5 381v2M886.5 383v2M887.5 385v2M888.5 387v2M889.5 389v2M890.5 391v2M891.5 393v2M892.5 395v1M893.5 396v2M894.5 398v2M895.5 400v1M896.5 401v2M897.5 403v2M898.5 405v1M899.5 406v2M900.5 408v1M901.5 409v2M902.5 411v1M903.5 412v1M904.5 413v2M905.5 415v1M906.5 416v2M907.5 418v1M908.5 419v1M909.5 420v2M910.5 422v1M911.5 423v1M912.5 424v1M913.5 425v1M914.5 426v2M915.5 428v1M916.5 429v1M917.5 430v1M918.5 431v1M919.5 432v1M920.5 433v1M921.5 434v1M922.5 435v1M923.5 436v2M924.5 438v1M925.5 439v1M926.5 440v1M927.5 441v1M928.5 442v1M929.5 443v1M930.5 444v1M931.5 445v1M932.5 446v2M933.5 448v1M934.5 449v1M935.5 450v1M936.5 451v1M937.5 452v1M938.5 453v2M939.5 455v2M940.5 457v1M941.5 458v1M942.5 459v1M945.5 461v1M946.5 462v1M947.5 463v1M948.5 464v1M951.5 466v1M952.5 467v1M953.5 468v1M954.5 469v1M957.5 471v1M958.5 472v1M959.5 473v1M960.5 474v1M963.5 476v1M964.5 477v1M986.5 484v1M989.5 486v1M992.5 488v1M993.5 489v1M994.5 490v1M995.5 491v1M996.5 492v1M997.5 493v1M998.5 494v1M999.5 495v1M1000.5 496v1M1103.5 513v1M1104.5 514v1M1107.5 516v1M1110.5 518v1M1111.5 519v1M1114.5 521v1M1115.5 522v1M1149.5 523v1M1152.5 521v1M1153.5 520v1M1154.5 519v1M1157.5 517v1M1158.5 516v1M1159.5 515v1M1160.5 514v1M1161.5 513v1M1162.5 512v1M1163.5 511v1M1164.5 510v1M1165.5 509v1M1166.5 508v1M1167.5 507v1M1168.5 506v1M1169.5 505v1M1170.5 504v1M1171.5 503v1M1172.5 502v1M1173.5 501v1M1174.5 499v2M1175.5 498v1M1176.5 497v1M1177.5 495v2M1178.5 494v1M1179.5 493v1M1180.5 492v1M1181.5 490v2M1182.5 489v1M1200.5 488v1M1201.5 489v2M1202.5 491v1M1203.5 492v2M1204.5 494v1M1205.5 495v2M1206.5 497v1M1207.5 498v2M1208.5 500v2M1209.5 502v3M1210.5 505v2M1211.5 507v3M1212.5 510v3M1213.5 513v3M1214.5 516v3M1215.5 519v2M1216.5 521v3M1217.5 524v3M1218.5 527v2M1219.5 529v2M1220.5 531v2M1221.5 533v2M1222.5 535v2M1223.5 537v2M1224.5 539v2M1225.5 541v2M1226.5 543v2M1227.5 545v2M1228.5 547v2M1229.5 549v2M1230.5 551v2M1231.5 553v2M1232.5 555v1M1233.5 556v1M1234.5 557v2M1235.5 559v1M1236.5 560v1M1237.5 561v2M1238.5 563v1M1239.5 564v1M1240.5 565v2M1241.5 567v1M1242.5 568v1M1243.5 569v2M1244.5 571v1M1245.5 572v2M1246.5 574v2M1247.5 576v2M1248.5 578v2M1249.5 580v2M1275.5 581v1M1276.5 579v2M1277.5 577v2M1278.5 575v2M1279.5 574v1M1280.5 572v2M1281.5 570v2M1282.5 568v2M1283.5 567v1M1284.5 565v2M1285.5 563v2M1326.5 560v1M1331.5 557v1M1375.5 551v1" stroke="#22a860" stroke-width="1" fill="none"/>
<rect x="0" y="454" width="1656" height="1" fill="#ff0000"/>
<rect x="0" y="478" width="1656" height="1" fill="#ff0000"/>
<rect x="0" y="497" width="1656" height="1" fill="#ffa500"/>
<rect x="0" y="539" width="1656" height="1" fill="#0000ff"/>
<rect x="0" y="561" width="1656" height="1" fill="#0000ff"/>
<rect x="6" y="55" width="1" height="50" fill="#000"/>
<rect x="4" y="60" width="5" height="40" fill="#000"/>
<rect x="14" y="90" width="1" height="42" fill="#000"/>
<rect x="12" y="95" width="5" height="35" fill="#000"/>
<rect x="22" y="95" width="1" height="37" fill="#000"/>
<rect x="20" y="130" width="5" height="1" fill="#000"/>
<rect x="30" y="128" width="1" height="101" fill="#000"/>
<rect x="28" y="131" width="5" height="93" fill="#000"/>
<rect x="38" y="212" width="1" height="20" fill="#000"/>
<rect x="36" y="214" width="5" height="10" fill="#000"/>
<rect x="37" y="215" width="3" height="8" fill="#fff"/>
<rect x="46" y="203" width="1" height="28" fill="#000"/>
<rect x="44" y="209" width="5" height="6" fill="#000"/>
<rect x="45" y="210" width="3" height="4" fill="#fff"/>
<rect x="54" y="205" width="1" height="20" fill="#000"/>
<rect x="52" y="209" width="5" height="5" fill="#000"/>
<rect x="62" y="196" width="1" height="28" fill="#000"/>
<rect x="60" y="205" width="5" height="9" fill="#000"/>
<rect x="61" y="206" width="3" height="7" fill="#fff"/>
<rect x="70" y="197" width="1" height="19" fill="#000"/>
<rect x="68" y="203" width="5" height="3" fill="#000"/>
<rect x="69" y="204" width="3" height="1" fill="#fff"/>
<rect x="78" y="75" width="1" height="136" fill="#000"/>
<rect x="76" y="80" width="5" height="124" fill="#000"/>
<rect x="77" y="81" width="3" height="122" fill="#fff"/>
<rect x="86" y="75" width="1" height="29" fill="#000"/>
<rect x="84" y="80" width="5" height="20" fill="#000"/>
<rect x="94" y="85" width="1" height="18" fill="#000"/>
<rect x="92" y="90" width="5" height="13" fill="#000"/>
<rect x="93" y="91" width="3" height="11" fill="#fff"/>
<rect x="102" y="88" width="1" height="25" fill="#000"/>
<rect x="100" y="92" width="5" height="14" fill="#000"/>
<rect x="110" y="90" width="1" height="28" fill="#000"/>
<rect x="108" y="95" width="5" height="12" fill="#000"/>
<rect x="109" y="96" width="3" height="10" fill="#fff"/>
<rect x="118" y="92" width="1" height="10" fill="#000"/>
<rect x="116" y="98" width="5" height="1" fill="#000"/>
<rect x="126" y="85" width="1" height="13" fill="#000"/>
<rect x="124" y="90" width="5" height="6" fill="#000"/>
<rect x="134" y="85" width="1" height="13" fill="#000"/>
<rect x="132" y="88" width="5" height="7" fill="#000"/>
<rect x="133" y="89" width="3" height="5" fill="#fff"/>
<rect x="142" y="85" width="1" height="13" fill="#000"/>
<rect x="140" y="88" width="5" height="8" fill="#000"/>
<rect x="150" y="85" width="1" height="13" fill="#000"/>
<rect x="148" y="88" width="5" height="8" fill="#000"/>
<rect x="149" y="89" width="3" height="6" fill="#fff"/>
<rect x="158" y="85" width="1" height="22" fill="#000"/>
<rect x="156" y="90" width="5" height="8" fill="#000"/>
<rect x="157" y="91" width="3" height="6" fill="#fff"/>
<rect x="166" y="85" width="1" height="23" fill="#000"/>
<rect x="164" y="90" width="5" height="8" fill="#000"/>
<rect x="174" y="85" width="1" height="27" fill="#000"/>
<rect x="172" y="90" width="5" height="8" fill="#000"/>
<rect x="173" y="91" width="3" height="6" fill="#fff"/>
<rect x="182" y="85" width="1" height="23" fill="#000"/>
<rect x="180" y="90" width="5" height="8" fill="#000"/>
<rect x="190" y="90" width="1" height="20" fill="#000"/>
<rect x="188" y="95" width="5" height="11" fill="#000"/>
<rect x="198" y="95" width="1" height="15" fill="#000"/>
<rect x="196" y="105" width="5" height="1" fill="#000"/>
<rect x="206" y="90" width="1" height="19" fill="#000"/>
<rect x="204" y="95" width="5" height="11" fill="#000"/>
<rect x="205" y="96" width="3" height="9" fill="#fff"/>
<rect x="214" y="80" width="1" height="18" fill="#000"/>
<rect x="212" y="85" width="5" height="11" fill="#000"/>
<rect x="222" y="69" width="1" height="52" fill="#000"/>
<rect x="220" y="84" width="5" height="31" fill="#000"/>
<rect x="230" y="102" width="1" height="20" fill="#000"/>
<rect x="228" y="114" width="5" height="4" fill="#000"/>
<rect x="238" y="110" width="1" height="9" fill="#000"/>
<rect x="236" y="115" width="5" height="3" fill="#000"/>
<rect x="237" y="116" width="3" height="1" fill="#fff"/>
<rect x="246" y="105" width="1" height="21" fill="#000"/>
<rect x="244" y="106" width="5" height="11" fill="#000"/>
<rect x="245" y="107" width="3" height="9" fill="#fff"/>
<rect x="254" y="96" width="1" height="23" fill="#000"/>
<rect x="252" y="106" width="5" height="7" fill="#000"/>
<rect x="262" y="94" width="1" height="24" fill="#000"/>
<rect x="260" y="102" width="5" height="11" fill="#000"/>
<rect x="261" y="103" width="3" height="9" fill="#fff"/>
<rect x="270" y="68" width="1" height="64" fill="#000"/>
<rect x="268" y="84" width="5" height="19" fill="#000"/>
<rect x="269" y="85" width="3" height="17" fill="#fff"/>
<rect x="278" y="72" width="1" height="21" fill="#000"/>
<rect x="276" y="82" width="5" height="3" fill="#000"/>
<rect x="277" y="83" width="3" height="1" fill="#fff"/>
<rect x="286" y="78" width="1" height="12" fill="#000"/>
<rect x="284" y="82" width="5" height="8" fill="#000"/>
<rect x="294" y="76" width="1" height="16" fill="#000"/>
<rect x="292" y="83" width="5" height="6" fill="#000"/>
<rect x="293" y="84" width="3" height="4" fill="#fff"/>
<rect x="302" y="50" width="1" height="37" fill="#000"/>
<rect x="300" y="62" width="5" height="22" fill="#000"/>
<rect x="301" y="63" width="3" height="20" fill="#fff"/>
<rect x="310" y="60" width="1" height="52" fill="#000"/>
<rect x="308" y="62" width="5" height="47" fill="#000"/>
<rect x="318" y="106" width="1" height="64" fill="#000"/>
<rect x="316" y="110" width="5" height="53" fill="#000"/>
<rect x="326" y="152" width="1" height="20" fill="#000"/>
<rect x="324" y="152" width="5" height="10" fill="#000"/>
<rect x="325" y="153" width="3" height="8" fill="#fff"/>
<rect x="334" y="142" width="1" height="5" fill="#000"/>
<rect x="332" y="145" width="5" height="1" fill="#000"/>
<rect x="342" y="142" width="1" height="22" fill="#000"/>
<rect x="340" y="145" width="5" height="10" fill="#000"/>
<rect x="350" y="136" width="1" height="22" fill="#000"/>
<rect x="348" y="137" width="5" height="19" fill="#000"/>
<rect x="349" y="138" width="3" height="17" fill="#fff"/>
<rect x="358" y="124" width="1" height="30" fill="#000"/>
<rect x="356" y="137" width="5" height="1" fill="#000"/>
<rect x="366" y="120" width="1" height="18" fill="#000"/>
<rect x="364" y="132" width="5" height="6" fill="#000"/>
<rect x="365" y="133" width="3" height="4" fill="#fff"/>
<rect x="374" y="131" width="1" height="18" fill="#000"/>
<rect x="372" y="133" width="5" height="3" fill="#000"/>
<rect x="382" y="133" width="1" height="10" fill="#000"/>
<rect x="380" y="136" width="5" height="4" fill="#000"/>
<rect x="390" y="132" width="1" height="30" fill="#000"/>
<rect x="388" y="140" width="5" height="6" fill="#000"/>
<rect x="398" y="134" width="1" height="22" fill="#000"/>
<rect x="396" y="146" width="5" height="5" fill="#000"/>
<rect x="406" y="148" width="1" height="30" fill="#000"/>
<rect x="404" y="151" width="5" height="17" fill="#000"/>
<rect x="414" y="158" width="1" height="34" fill="#000"/>
<rect x="412" y="169" width="5" height="21" fill="#000"/>
<rect x="422" y="175" width="1" height="17" fill="#000"/>
<rect x="420" y="177" width="5" height="12" fill="#000"/>
<rect x="421" y="178" width="3" height="10" fill="#fff"/>
<rect x="430" y="170" width="1" height="8" fill="#000"/>
<rect x="428" y="176" width="5" height="2" fill="#000"/>
<rect x="438" y="162" width="1" height="17" fill="#000"/>
<rect x="436" y="164" width="5" height="13" fill="#000"/>
<rect x="437" y="165" width="3" height="11" fill="#fff"/>
<rect x="446" y="151" width="1" height="22" fill="#000"/>
<rect x="444" y="157" width="5" height="7" fill="#000"/>
<rect x="445" y="158" width="3" height="5" fill="#fff"/>
<rect x="454" y="142" width="1" height="17" fill="#000"/>
<rect x="452" y="148" width="5" height="8" fill="#000"/>
<rect x="453" y="149" width="3" height="6" fill="#fff"/>
<rect x="462" y="134" width="1" height="22" fill="#000"/>
<rect x="460" y="140" width="5" height="9" fill="#000"/>
<rect x="461" y="141" width="3" height="7" fill="#fff"/>
<rect x="470" y="136" width="1" height="148" fill="#000"/>
<rect x="468" y="141" width="5" height="136" fill="#000"/>
<rect x="478" y="266" width="1" height="21" fill="#000"/>
<rect x="476" y="274" width="5" height="3" fill="#000"/>
<rect x="477" y="275" width="3" height="1" fill="#fff"/>
<rect x="486" y="232" width="1" height="67" fill="#000"/>
<rect x="484" y="257" width="5" height="18" fill="#000"/>
<rect x="485" y="258" width="3" height="16" fill="#fff"/>
<rect x="494" y="246" width="1" height="41" fill="#000"/>
<rect x="492" y="258" width="5" height="18" fill="#000"/>
<rect x="502" y="262" width="1" height="85" fill="#000"/>
<rect x="500" y="274" width="5" height="70" fill="#000"/>
<rect x="510" y="306" width="1" height="59" fill="#000"/>
<rect x="508" y="344" width="5" height="16" fill="#000"/>
<rect x="518" y="350" width="1" height="30" fill="#000"/>
<rect x="516" y="359" width="5" height="10" fill="#000"/>
<rect x="526" y="352" width="1" height="18" fill="#000"/>
<rect x="524" y="355" width="5" height="15" fill="#000"/>
<rect x="525" y="356" width="3" height="13" fill="#fff"/>
<rect x="534" y="350" width="1" height="18" fill="#000"/>
<rect x="532" y="355" width="5" height="7" fill="#000"/>
<rect x="542" y="361" width="1" height="59" fill="#000"/>
<rect x="540" y="361" width="5" height="16" fill="#000"/>
<rect x="550" y="364" width="1" height="43" fill="#000"/>
<rect x="548" y="376" width="5" height="19" fill="#000"/>
<rect x="558" y="395" width="1" height="70" fill="#000"/>
<rect x="556" y="395" width="5" height="46" fill="#000"/>
<rect x="566" y="419" width="1" height="28" fill="#000"/>
<rect x="564" y="436" width="5" height="5" fill="#000"/>
<rect x="565" y="437" width="3" height="3" fill="#fff"/>
<rect x="574" y="427" width="1" height="13" fill="#000"/>
<rect x="572" y="433" width="5" height="1" fill="#000"/>
<rect x="582" y="404" width="1" height="59" fill="#000"/>
<rect x="580" y="433" width="5" height="15" fill="#000"/>
<rect x="590" y="424" width="1" height="43" fill="#000"/>
<rect x="588" y="438" width="5" height="9" fill="#000"/>
<rect x="589" y="439" width="3" height="7" fill="#fff"/>
<rect x="598" y="406" width="1" height="40" fill="#000"/>
<rect x="596" y="409" width="5" height="29" fill="#000"/>
<rect x="597" y="410" width="3" height="27" fill="#fff"/>
<rect x="606" y="383" width="1" height="44" fill="#000"/>
<rect x="604" y="397" width="5" height="12" fill="#000"/>
<rect x="605" y="398" width="3" height="10" fill="#fff"/>
<rect x="614" y="371" width="1" height="27" fill="#000"/>
<rect x="612" y="377" width="5" height="21" fill="#000"/>
<rect x="613" y="378" width="3" height="19" fill="#fff"/>
<rect x="622" y="372" width="1" height="16" fill="#000"/>
<rect x="620" y="377" width="5" height="10" fill="#000"/>
<rect x="630" y="386" width="1" height="34" fill="#000"/>
<rect x="628" y="386" width="5" height="28" fill="#000"/>
<rect x="638" y="404" width="1" height="29" fill="#000"/>
<rect x="636" y="413" width="5" height="17" fill="#000"/>
<rect x="646" y="403" width="1" height="41" fill="#000"/>
<rect x="644" y="409" width="5" height="22" fill="#000"/>
<rect x="645" y="410" width="3" height="20" fill="#fff"/>
<rect x="654" y="392" width="1" height="42" fill="#000"/>
<rect x="652" y="397" width="5" height="13" fill="#000"/>
<rect x="653" y="398" width="3" height="11" fill="#fff"/>
<rect x="662" y="345" width="1" height="54" fill="#000"/>
<rect x="660" y="358" width="5" height="40" fill="#000"/>
<rect x="661" y="359" width="3" height="38" fill="#fff"/>
<rect x="670" y="351" width="1" height="17" fill="#000"/>
<rect x="668" y="357" width="5" height="3" fill="#000"/>
<rect x="678" y="353" width="1" height="30" fill="#000"/>
<rect x="676" y="359" width="5" height="11" fill="#000"/>
<rect x="686" y="355" width="1" height="27" fill="#000"/>
<rect x="684" y="361" width="5" height="8" fill="#000"/>
<rect x="685" y="362" width="3" height="6" fill="#fff"/>
<rect x="694" y="323" width="1" height="40" fill="#000"/>
<rect x="692" y="330" width="5" height="32" fill="#000"/>
<rect x="693" y="331" width="3" height="30" fill="#fff"/>
<rect x="702" y="297" width="1" height="36" fill="#000"/>
<rect x="700" y="312" width="5" height="19" fill="#000"/>
<rect x="701" y="313" width="3" height="17" fill="#fff"/>
<rect x="710" y="312" width="1" height="31" fill="#000"/>
<rect x="708" y="312" width="5" height="24" fill="#000"/>
<rect x="718" y="324" width="1" height="13" fill="#000"/>
<rect x="716" y="333" width="5" height="3" fill="#000"/>
<rect x="717" y="334" width="3" height="1" fill="#fff"/>
<rect x="726" y="325" width="1" height="17" fill="#000"/>
<rect x="724" y="331" width="5" height="2" fill="#000"/>
<rect x="734" y="314" width="1" height="30" fill="#000"/>
<rect x="732" y="331" width="5" height="4" fill="#000"/>
<rect x="742" y="317" width="1" height="23" fill="#000"/>
<rect x="740" y="326" width="5" height="8" fill="#000"/>
<rect x="741" y="327" width="3" height="6" fill="#fff"/>
<rect x="750" y="307" width="1" height="31" fill="#000"/>
<rect x="748" y="326" width="5" height="9" fill="#000"/>
<rect x="758" y="311" width="1" height="23" fill="#000"/>
<rect x="756" y="314" width="5" height="21" fill="#000"/>
<rect x="757" y="315" width="3" height="19" fill="#fff"/>
<rect x="766" y="311" width="1" height="12" fill="#000"/>
<rect x="764" y="313" width="5" height="9" fill="#000"/>
<rect x="774" y="303" width="1" height="22" fill="#000"/>
<rect x="772" y="306" width="5" height="17" fill="#000"/>
<rect x="773" y="307" width="3" height="15" fill="#fff"/>
<rect x="782" y="291" width="1" height="22" fill="#000"/>
<rect x="780" y="294" width="5" height="12" fill="#000"/>
<rect x="781" y="295" width="3" height="10" fill="#fff"/>
<rect x="790" y="292" width="1" height="23" fill="#000"/>
<rect x="788" y="294" width="5" height="11" fill="#000"/>
<rect x="798" y="272" width="1" height="34" fill="#000"/>
<rect x="796" y="302" width="5" height="3" fill="#000"/>
<rect x="797" y="303" width="3" height="1" fill="#fff"/>
<rect x="806" y="302" width="1" height="19" fill="#000"/>
<rect x="804" y="302" width="5" height="14" fill="#000"/>
<rect x="814" y="302" width="1" height="15" fill="#000"/>
<rect x="812" y="303" width="5" height="13" fill="#000"/>
<rect x="813" y="304" width="3" height="11" fill="#fff"/>
<rect x="822" y="302" width="1" height="27" fill="#000"/>
<rect x="820" y="303" width="5" height="12" fill="#000"/>
<rect x="830" y="293" width="1" height="24" fill="#000"/>
<rect x="828" y="309" width="5" height="6" fill="#000"/>
<rect x="829" y="310" width="3" height="4" fill="#fff"/>
<rect x="838" y="307" width="1" height="47" fill="#000"/>
<rect x="836" y="309" width="5" height="43" fill="#000"/>
<rect x="846" y="324" width="1" height="36" fill="#000"/>
<rect x="844" y="333" width="5" height="19" fill="#000"/>
<rect x="845" y="334" width="3" height="17" fill="#fff"/>
<rect x="854" y="332" width="1" height="19" fill="#000"/>
<rect x="852" y="333" width="5" height="10" fill="#000"/>
<rect x="862" y="339" width="1" height="7" fill="#000"/>
<rect x="860" y="340" width="5" height="5" fill="#000"/>
<rect x="861" y="341" width="3" height="3" fill="#fff"/>
<rect x="870" y="336" width="1" height="30" fill="#000"/>
<rect x="868" y="339" width="5" height="20" fill="#000"/>
<rect x="878" y="345" width="1" height="27" fill="#000"/>
<rect x="876" y="358" width="5" height="10" fill="#000"/>
<rect x="886" y="367" width="1" height="50" fill="#000"/>
<rect x="884" y="369" width="5" height="44" fill="#000"/>
<rect x="894" y="397" width="1" height="28" fill="#000"/>
<rect x="892" y="411" width="5" height="2" fill="#000"/>
<rect x="902" y="409" width="1" height="15" fill="#000"/>
<rect x="900" y="412" width="5" height="8" fill="#000"/>
<rect x="910" y="414" width="1" height="10" fill="#000"/>
<rect x="908" y="416" width="5" height="3" fill="#000"/>
<rect x="909" y="417" width="3" height="1" fill="#fff"/>
<rect x="918" y="401" width="1" height="20" fill="#000"/>
<rect x="916" y="402" width="5" height="15" fill="#000"/>
<rect x="917" y="403" width="3" height="13" fill="#fff"/>
<rect x="926" y="397" width="1" height="19" fill="#000"/>
<rect x="924" y="403" width="5" height="9" fill="#000"/>
<rect x="934" y="410" width="1" height="31" fill="#000"/>
<rect x="932" y="411" width="5" height="17" fill="#000"/>
<rect x="942" y="417" width="1" height="30" fill="#000"/>
<rect x="940" y="427" width="5" height="15" fill="#000"/>
<rect x="950" y="429" width="1" height="15" fill="#000"/>
<rect x="948" y="437" width="5" height="5" fill="#000"/>
<rect x="949" y="438" width="3" height="3" fill="#fff"/>
<rect x="958" y="433" width="1" height="10" fill="#000"/>
<rect x="956" y="437" width="5" height="2" fill="#000"/>
<rect x="966" y="438" width="1" height="19" fill="#000"/>
<rect x="964" y="439" width="5" height="9" fill="#000"/>
<rect x="974" y="429" width="1" height="40" fill="#000"/>
<rect x="972" y="442" width="5" height="6" fill="#000"/>
<rect x="973" y="443" width="3" height="4" fill="#fff"/>
<rect x="982" y="431" width="1" height="35" fill="#000"/>
<rect x="980" y="432" width="5" height="12" fill="#000"/>
<rect x="981" y="433" width="3" height="10" fill="#fff"/>
<rect x="990" y="424" width="1" height="65" fill="#000"/>
<rect x="988" y="432" width="5" height="44" fill="#000"/>
<rect x="998" y="468" width="1" height="23" fill="#000"/>
<rect x="996" y="474" width="5" height="8" fill="#000"/>
<rect x="1006" y="474" width="1" height="13" fill="#000"/>
<rect x="1004" y="482" width="5" height="2" fill="#000"/>
<rect x="1014" y="478" width="1" height="13" fill="#000"/>
<rect x="1012" y="483" width="5" height="4" fill="#000"/>
<rect x="1022" y="476" width="1" height="29" fill="#000"/>
<rect x="1020" y="486" width="5" height="16" fill="#000"/>
<rect x="1030" y="480" width="1" height="27" fill="#000"/>
<rect x="1028" y="485" width="5" height="17" fill="#000"/>
<rect x="1029" y="486" width="3" height="15" fill="#fff"/>
<rect x="1038" y="434" width="1" height="79" fill="#000"/>
<rect x="1036" y="438" width="5" height="48" fill="#000"/>
<rect x="1037" y="439" width="3" height="46" fill="#fff"/>
<rect x="1046" y="389" width="1" height="55" fill="#000"/>
<rect x="1044" y="393" width="5" height="47" fill="#000"/>
<rect x="1045" y="394" width="3" height="45" fill="#fff"/>
<rect x="1054" y="401" width="1" height="9" fill="#000"/>
<rect x="1052" y="407" width="5" height="4" fill="#000"/>
<rect x="1062" y="402" width="1" height="21" fill="#000"/>
<rect x="1060" y="409" width="5" height="10" fill="#000"/>
<rect x="1070" y="391" width="1" height="32" fill="#000"/>
<rect x="1068" y="394" width="5" height="25" fill="#000"/>
<rect x="1069" y="395" width="3" height="23" fill="#fff"/>
<rect x="1078" y="383" width="1" height="16" fill="#000"/>
<rect x="1076" y="392" width="5" height="2" fill="#000"/>
<rect x="1086" y="389" width="1" height="23" fill="#000"/>
<rect x="1084" y="391" width="5" height="2" fill="#000"/>
<rect x="1094" y="387" width="1" height="10" fill="#000"/>
<rect x="1092" y="390" width="5" height="1" fill="#000"/>
<rect x="1102" y="368" width="1" height="34" fill="#000"/>
<rect x="1100" y="378" width="5" height="13" fill="#000"/>
<rect x="1101" y="379" width="3" height="11" fill="#fff"/>
<rect x="1110" y="339" width="1" height="44" fill="#000"/>
<rect x="1108" y="340" width="5" height="39" fill="#000"/>
<rect x="1109" y="341" width="3" height="37" fill="#fff"/>
<rect x="1118" y="297" width="1" height="78" fill="#000"/>
<rect x="1116" y="323" width="5" height="17" fill="#000"/>
<rect x="1117" y="324" width="3" height="15" fill="#fff"/>
<rect x="1126" y="316" width="1" height="26" fill="#000"/>
<rect x="1124" y="323" width="5" height="10" fill="#000"/>
<rect x="1134" y="323" width="1" height="130" fill="#000"/>
<rect x="1132" y="331" width="5" height="108" fill="#000"/>
<rect x="1142" y="434" width="1" height="29" fill="#000"/>
<rect x="1140" y="438" width="5" height="7" fill="#000"/>
<rect x="1150" y="438" width="1" height="13" fill="#000"/>
<rect x="1148" y="442" width="5" height="2" fill="#000"/>
<rect x="1158" y="440" width="1" height="20" fill="#000"/>
<rect x="1156" y="443" width="5" height="3" fill="#000"/>
<rect x="1166" y="417" width="1" height="31" fill="#000"/>
<rect x="1164" y="421" width="5" height="26" fill="#000"/>
<rect x="1165" y="422" width="3" height="24" fill="#fff"/>
<rect x="1174" y="398" width="1" height="39" fill="#000"/>
<rect x="1172" y="402" width="5" height="20" fill="#000"/>
<rect x="1173" y="403" width="3" height="18" fill="#fff"/>
<rect x="1182" y="388" width="1" height="100" fill="#000"/>
<rect x="1180" y="402" width="5" height="54" fill="#000"/>
<rect x="1190" y="425" width="1" height="41" fill="#000"/>
<rect x="1188" y="457" width="5" height="2" fill="#000"/>
<rect x="1198" y="450" width="1" height="13" fill="#000"/>
<rect x="1196" y="458" width="5" height="1" fill="#000"/>
<rect x="1206" y="457" width="1" height="41" fill="#000"/>
<rect x="1204" y="458" width="5" height="27" fill="#000"/>
<rect x="1214" y="479" width="1" height="60" fill="#000"/>
<rect x="1212" y="485" width="5" height="35" fill="#000"/>
<rect x="1222" y="513" width="1" height="36" fill="#000"/>
<rect x="1220" y="519" width="5" height="24" fill="#000"/>
<rect x="1230" y="503" width="1" height="48" fill="#000"/>
<rect x="1228" y="523" width="5" height="20" fill="#000"/>
<rect x="1229" y="524" width="3" height="18" fill="#fff"/>
<rect x="1238" y="514" width="1" height="33" fill="#000"/>
<rect x="1236" y="523" width="5" height="10" fill="#000"/>
<rect x="1246" y="522" width="1" height="21" fill="#000"/>
<rect x="1244" y="528" width="5" height="6" fill="#000"/>
<rect x="1245" y="529" width="3" height="4" fill="#fff"/>
<rect x="1254" y="520" width="1" height="41" fill="#000"/>
<rect x="1252" y="528" width="5" height="15" fill="#000"/>
<rect x="1262" y="513" width="1" height="41" fill="#000"/>
<rect x="1260" y="520" width="5" height="22" fill="#000"/>
<rect x="1261" y="521" width="3" height="20" fill="#fff"/>
<rect x="1270" y="474" width="1" height="49" fill="#000"/>
<rect x="1268" y="483" width="5" height="38" fill="#000"/>
<rect x="1269" y="484" width="3" height="36" fill="#fff"/>
<rect x="1278" y="452" width="1" height="31" fill="#000"/>
<rect x="1276" y="465" width="5" height="19" fill="#000"/>
<rect x="1277" y="466" width="3" height="17" fill="#fff"/>
<rect x="1286" y="447" width="1" height="18" fill="#000"/>
<rect x="1284" y="448" width="5" height="18" fill="#000"/>
<rect x="1285" y="449" width="3" height="16" fill="#fff"/>
<rect x="1294" y="447" width="1" height="9" fill="#000"/>
<rect x="1292" y="450" width="5" height="1" fill="#000"/>
<rect x="1302" y="449" width="1" height="29" fill="#000"/>
<rect x="1300" y="449" width="5" height="27" fill="#000"/>
<rect x="1310" y="467" width="1" height="23" fill="#000"/>
<rect x="1308" y="477" width="5" height="1" fill="#000"/>
<rect x="1318" y="469" width="1" height="39" fill="#000"/>
<rect x="1316" y="478" width="5" height="23" fill="#000"/>
<rect x="1326" y="440" width="1" height="55" fill="#000"/>
<rect x="1324" y="449" width="5" height="46" fill="#000"/>
<rect x="1325" y="450" width="3" height="44" fill="#fff"/>
<rect x="1334" y="449" width="1" height="28" fill="#000"/>
<rect x="1332" y="449" width="5" height="12" fill="#000"/>
<rect x="1342" y="459" width="1" height="10" fill="#000"/>
<rect x="1340" y="461" width="5" height="6" fill="#000"/>
<rect x="1350" y="431" width="1" height="34" fill="#000"/>
<rect x="1348" y="441" width="5" height="25" fill="#000"/>
<rect x="1349" y="442" width="3" height="23" fill="#fff"/>
<rect x="1358" y="440" width="1" height="16" fill="#000"/>
<rect x="1356" y="442" width="5" height="14" fill="#000"/>
<rect x="1366" y="452" width="1" height="18" fill="#000"/>
<rect x="1364" y="455" width="5" height="10" fill="#000"/>
<rect x="1374" y="461" width="1" height="77" fill="#000"/>
<rect x="1372" y="464" width="5" height="12" fill="#000"/>
<rect x="1382" y="471" width="1" height="46" fill="#000"/>
<rect x="1380" y="474" width="5" height="39" fill="#000"/>
<rect x="1390" y="509" width="1" height="8" fill="#000"/>
<rect x="1388" y="512" width="5" height="1" fill="#000"/>
</g>
<rect x="1651.5" y="452.5" width="4" height="4" fill="#fff" stroke="#ff0000" stroke-width="1" shape-rendering="crispEdges"/>
<rect x="-1.5" y="452.5" width="4" height="4" fill="#fff" stroke="#ff0000" stroke-width="1" shape-rendering="crispEdges"/>
<rect x="1651.5" y="476.5" width="4" height="4" fill="#fff" stroke="#ff0000" stroke-width="1" shape-rendering="crispEdges"/>
<rect x="-1.5" y="476.5" width="4" height="4" fill="#fff" stroke="#ff0000" stroke-width="1" shape-rendering="crispEdges"/>
<rect x="1651.5" y="559.5" width="4" height="4" fill="#fff" stroke="#0000ff" stroke-width="1" shape-rendering="crispEdges"/>
<rect x="-1.5" y="559.5" width="4" height="4" fill="#fff" stroke="#0000ff" stroke-width="1" shape-rendering="crispEdges"/>
<rect x="1240" y="495" width="203" height="6" fill="#00ee00" shape-rendering="crispEdges"/>
<g>
<line x1="1117.5" y1="311.7" x2="1244.7" y2="545.1" stroke="#ff0000" stroke-width="3" stroke-linecap="butt" shape-rendering="crispEdges"/><polygon points="1249.0,553.0 1239.8,545.5 1247.7,541.2" fill="#ff0000"/>
<line x1="1249.0" y1="552.0" x2="1340.6" y2="438.3" stroke="#ff0000" stroke-width="3" stroke-linecap="butt" shape-rendering="crispEdges"/><polygon points="1346.2,431.3 1342.8,442.7 1335.8,437.0" fill="#ff0000"/>
<line x1="1346.2" y1="432.0" x2="1398.4" y2="536.3" stroke="#ff0000" stroke-width="3" stroke-linecap="butt" shape-rendering="crispEdges"/><polygon points="1402.0,543.5 1393.9,536.3 1401.1,532.8" fill="#ff0000"/>
<line x1="1243.7" y1="677.3" x2="1338.0" y2="624.2" stroke="#ff0000" stroke-width="3" stroke-linecap="butt" shape-rendering="crispEdges"/><polygon points="1345.0,620.3 1338.2,628.7 1334.3,621.7" fill="#ff0000"/>
<line x1="1345.0" y1="620.3" x2="1386.1" y2="627.6" stroke="#ff0000" stroke-width="3" stroke-linecap="butt" shape-rendering="crispEdges"/><polygon points="1394.0,629.0 1383.5,631.2 1384.9,623.3" fill="#ff0000"/>
<line x1="1288.0" y1="836.2" x2="1391.1" y2="848.2" stroke="#ff0000" stroke-width="3" stroke-linecap="butt" shape-rendering="crispEdges"/><polygon points="1400.0,849.2 1388.6,851.9 1389.5,844.0" fill="#ff0000"/>
</g>
<rect x="967.5" y="504.5" width="61" height="18" fill="#fff" stroke="#ff0000" stroke-width="1" shape-rendering="crispEdges"/>
<text x="969" y="519" font-size="16.5" fill="#ff0000" textLength="57.5" lengthAdjust="spacingAndGlyphs">0.74434</text>
<rect x="1028" y="513" width="11" height="1" fill="#ff0000" shape-rendering="crispEdges"/>
<rect x="1081.5" y="485.5" width="73" height="24" fill="#fff" stroke="#ff0000" stroke-width="1" shape-rendering="crispEdges"/>
<text x="1083" y="506" font-size="22" fill="#ff0000" textLength="70" lengthAdjust="spacingAndGlyphs">0.74548</text>
<rect x="1071" y="497" width="7" height="1" fill="#ff0000" shape-rendering="crispEdges"/>
<rect x="1078.5" y="495.5" width="3" height="4" fill="#fff" stroke="#ff0000" stroke-width="1" shape-rendering="crispEdges"/>
<rect x="1279.5" y="419.5" width="61" height="18" fill="#fff" stroke="#ff0000" stroke-width="1" shape-rendering="crispEdges"/>
<text x="1281" y="434" font-size="16.5" fill="#ff0000" textLength="57.5" lengthAdjust="spacingAndGlyphs">0.75042</text>
<rect x="1341.5" y="426.5" width="2" height="3" fill="#fff" stroke="#ff0000" stroke-width="1" shape-rendering="crispEdges"/>
<rect x="1344" y="428" width="7" height="1" fill="#ff0000" shape-rendering="crispEdges"/>
<rect x="1183.5" y="552.5" width="61" height="18" fill="#fff" stroke="#ff0000" stroke-width="1" shape-rendering="crispEdges"/>
<text x="1185" y="567" font-size="16.5" fill="#ff0000" textLength="57.5" lengthAdjust="spacingAndGlyphs">0.74090</text>
<rect x="1245.5" y="559.5" width="2" height="3" fill="#fff" stroke="#ff0000" stroke-width="1" shape-rendering="crispEdges"/>
<rect x="1248" y="561" width="6" height="1" fill="#ff0000" shape-rendering="crispEdges"/>
<rect x="1503.5" y="499.5" width="110" height="24" fill="#fff" stroke="#303030" stroke-width="1" shape-rendering="crispEdges"/>
<rect x="1504" y="512" width="109" height="1" fill="#c0c0c0" shape-rendering="crispEdges"/>
<text x="1503.5" y="518.6" font-size="21" font-family="'Liberation Sans','Noto Sans CJK SC',sans-serif" font-weight="300" fill="#00ff00" textLength="108.5" lengthAdjust="spacing">多空转折点</text>
<polygon points="1400.5,23 1410.5,23 1405.5,28" fill="#c0c0c0"/>
<g clip-path="url(#cd)" shape-rendering="crispEdges">
<rect x="6" y="612" width="1" height="4" fill="#c0c0c0"/>
<rect x="14" y="615" width="1" height="2" fill="#c0c0c0"/>
<rect x="22" y="615" width="1" height="6" fill="#c0c0c0"/>
<rect x="30" y="615" width="1" height="22" fill="#c0c0c0"/>
<rect x="38" y="615" width="1" height="32" fill="#c0c0c0"/>
<rect x="46" y="615" width="1" height="41" fill="#c0c0c0"/>
<rect x="54" y="615" width="1" height="46" fill="#c0c0c0"/>
<rect x="62" y="615" width="1" height="49" fill="#c0c0c0"/>
<rect x="70" y="615" width="1" height="51" fill="#c0c0c0"/>
<rect x="78" y="615" width="1" height="38" fill="#c0c0c0"/>
<rect x="86" y="615" width="1" height="26" fill="#c0c0c0"/>
<rect x="94" y="615" width="1" height="18" fill="#c0c0c0"/>
<rect x="102" y="615" width="1" height="12" fill="#c0c0c0"/>
<rect x="110" y="615" width="1" height="4" fill="#c0c0c0"/>
<rect x="118" y="612" width="1" height="4" fill="#c0c0c0"/>
<rect x="126" y="605" width="1" height="11" fill="#c0c0c0"/>
<rect x="134" y="601" width="1" height="15" fill="#c0c0c0"/>
<rect x="142" y="598" width="1" height="18" fill="#c0c0c0"/>
<rect x="150" y="598" width="1" height="18" fill="#c0c0c0"/>
<rect x="158" y="599" width="1" height="17" fill="#c0c0c0"/>
<rect x="166" y="598" width="1" height="18" fill="#c0c0c0"/>
<rect x="174" y="600" width="1" height="16" fill="#c0c0c0"/>
<rect x="182" y="600" width="1" height="16" fill="#c0c0c0"/>
<rect x="190" y="603" width="1" height="13" fill="#c0c0c0"/>
<rect x="198" y="605" width="1" height="11" fill="#c0c0c0"/>
<rect x="206" y="605" width="1" height="11" fill="#c0c0c0"/>
<rect x="214" y="604" width="1" height="12" fill="#c0c0c0"/>
<rect x="222" y="607" width="1" height="9" fill="#c0c0c0"/>
<rect x="230" y="610" width="1" height="6" fill="#c0c0c0"/>
<rect x="238" y="612" width="1" height="4" fill="#c0c0c0"/>
<rect x="246" y="614" width="1" height="2" fill="#c0c0c0"/>
<rect x="254" y="614" width="1" height="2" fill="#c0c0c0"/>
<rect x="262" y="614" width="1" height="2" fill="#c0c0c0"/>
<rect x="270" y="610" width="1" height="6" fill="#c0c0c0"/>
<rect x="278" y="608" width="1" height="8" fill="#c0c0c0"/>
<rect x="286" y="609" width="1" height="7" fill="#c0c0c0"/>
<rect x="294" y="607" width="1" height="9" fill="#c0c0c0"/>
<rect x="302" y="603" width="1" height="13" fill="#c0c0c0"/>
<rect x="310" y="607" width="1" height="9" fill="#c0c0c0"/>
<rect x="318" y="615" width="1" height="2" fill="#c0c0c0"/>
<rect x="326" y="615" width="1" height="8" fill="#c0c0c0"/>
<rect x="334" y="615" width="1" height="12" fill="#c0c0c0"/>
<rect x="342" y="615" width="1" height="16" fill="#c0c0c0"/>
<rect x="350" y="615" width="1" height="16" fill="#c0c0c0"/>
<rect x="358" y="615" width="1" height="16" fill="#c0c0c0"/>
<rect x="366" y="615" width="1" height="16" fill="#c0c0c0"/>
<rect x="374" y="615" width="1" height="16" fill="#c0c0c0"/>
<rect x="382" y="615" width="1" height="17" fill="#c0c0c0"/>
<rect x="390" y="615" width="1" height="18" fill="#c0c0c0"/>
<rect x="398" y="615" width="1" height="19" fill="#c0c0c0"/>
<rect x="406" y="615" width="1" height="22" fill="#c0c0c0"/>
<rect x="414" y="615" width="1" height="26" fill="#c0c0c0"/>
<rect x="422" y="615" width="1" height="29" fill="#c0c0c0"/>
<rect x="430" y="615" width="1" height="30" fill="#c0c0c0"/>
<rect x="438" y="615" width="1" height="29" fill="#c0c0c0"/>
<rect x="446" y="615" width="1" height="26" fill="#c0c0c0"/>
<rect x="454" y="615" width="1" height="23" fill="#c0c0c0"/>
<rect x="462" y="615" width="1" height="20" fill="#c0c0c0"/>
<rect x="470" y="615" width="1" height="35" fill="#c0c0c0"/>
<rect x="478" y="615" width="1" height="46" fill="#c0c0c0"/>
<rect x="486" y="615" width="1" height="52" fill="#c0c0c0"/>
<rect x="494" y="615" width="1" height="58" fill="#c0c0c0"/>
<rect x="502" y="615" width="1" height="72" fill="#c0c0c0"/>
<rect x="510" y="615" width="1" height="84" fill="#c0c0c0"/>
<rect x="518" y="615" width="1" height="93" fill="#c0c0c0"/>
<rect x="526" y="615" width="1" height="98" fill="#c0c0c0"/>
<rect x="534" y="615" width="1" height="101" fill="#c0c0c0"/>
<rect x="542" y="615" width="1" height="105" fill="#c0c0c0"/>
<rect x="550" y="615" width="1" height="109" fill="#c0c0c0"/>
<rect x="558" y="615" width="1" height="117" fill="#c0c0c0"/>
<rect x="566" y="615" width="1" height="121" fill="#c0c0c0"/>
<rect x="574" y="615" width="1" height="123" fill="#c0c0c0"/>
<rect x="582" y="615" width="1" height="125" fill="#c0c0c0"/>
<rect x="590" y="615" width="1" height="124" fill="#c0c0c0"/>
<rect x="598" y="615" width="1" height="116" fill="#c0c0c0"/>
<rect x="606" y="615" width="1" height="110" fill="#c0c0c0"/>
<rect x="614" y="615" width="1" height="100" fill="#c0c0c0"/>
<rect x="622" y="615" width="1" height="92" fill="#c0c0c0"/>
<rect x="630" y="615" width="1" height="88" fill="#c0c0c0"/>
<rect x="638" y="615" width="1" height="86" fill="#c0c0c0"/>
<rect x="646" y="615" width="1" height="82" fill="#c0c0c0"/>
<rect x="654" y="615" width="1" height="75" fill="#c0c0c0"/>
<rect x="662" y="615" width="1" height="64" fill="#c0c0c0"/>
<rect x="670" y="615" width="1" height="55" fill="#c0c0c0"/>
<rect x="678" y="615" width="1" height="49" fill="#c0c0c0"/>
<rect x="686" y="615" width="1" height="42" fill="#c0c0c0"/>
<rect x="694" y="615" width="1" height="32" fill="#c0c0c0"/>
<rect x="702" y="615" width="1" height="21" fill="#c0c0c0"/>
<rect x="710" y="615" width="1" height="16" fill="#c0c0c0"/>
<rect x="718" y="615" width="1" height="11" fill="#c0c0c0"/>
<rect x="726" y="615" width="1" height="7" fill="#c0c0c0"/>
<rect x="734" y="615" width="1" height="4" fill="#c0c0c0"/>
<rect x="742" y="615" width="1" height="1" fill="#c0c0c0"/>
<rect x="750" y="615" width="1" height="1" fill="#c0c0c0"/>
<rect x="758" y="611" width="1" height="5" fill="#c0c0c0"/>
<rect x="766" y="609" width="1" height="7" fill="#c0c0c0"/>
<rect x="774" y="605" width="1" height="11" fill="#c0c0c0"/>
<rect x="782" y="601" width="1" height="15" fill="#c0c0c0"/>
<rect x="790" y="599" width="1" height="17" fill="#c0c0c0"/>
<rect x="798" y="598" width="1" height="18" fill="#c0c0c0"/>
<rect x="806" y="599" width="1" height="17" fill="#c0c0c0"/>
<rect x="814" y="598" width="1" height="18" fill="#c0c0c0"/>
<rect x="822" y="600" width="1" height="16" fill="#c0c0c0"/>
<rect x="830" y="599" width="1" height="17" fill="#c0c0c0"/>
<rect x="838" y="605" width="1" height="11" fill="#c0c0c0"/>
<rect x="846" y="608" width="1" height="8" fill="#c0c0c0"/>
<rect x="854" y="611" width="1" height="5" fill="#c0c0c0"/>
<rect x="862" y="613" width="1" height="3" fill="#c0c0c0"/>
<rect x="870" y="615" width="1" height="2" fill="#c0c0c0"/>
<rect x="878" y="615" width="1" height="6" fill="#c0c0c0"/>
<rect x="886" y="615" width="1" height="16" fill="#c0c0c0"/>
<rect x="894" y="615" width="1" height="23" fill="#c0c0c0"/>
<rect x="902" y="615" width="1" height="30" fill="#c0c0c0"/>
<rect x="910" y="615" width="1" height="33" fill="#c0c0c0"/>
<rect x="918" y="615" width="1" height="34" fill="#c0c0c0"/>
<rect x="926" y="615" width="1" height="36" fill="#c0c0c0"/>
<rect x="934" y="615" width="1" height="40" fill="#c0c0c0"/>
<rect x="942" y="615" width="1" height="43" fill="#c0c0c0"/>
<rect x="950" y="615" width="1" height="45" fill="#c0c0c0"/>
<rect x="958" y="615" width="1" height="46" fill="#c0c0c0"/>
<rect x="966" y="615" width="1" height="48" fill="#c0c0c0"/>
<rect x="974" y="615" width="1" height="48" fill="#c0c0c0"/>
<rect x="982" y="615" width="1" height="46" fill="#c0c0c0"/>
<rect x="990" y="615" width="1" height="48" fill="#c0c0c0"/>
<rect x="998" y="615" width="1" height="53" fill="#c0c0c0"/>
<rect x="1006" y="615" width="1" height="56" fill="#c0c0c0"/>
<rect x="1014" y="615" width="1" height="56" fill="#c0c0c0"/>
<rect x="1022" y="615" width="1" height="59" fill="#c0c0c0"/>
<rect x="1030" y="615" width="1" height="58" fill="#c0c0c0"/>
<rect x="1038" y="615" width="1" height="51" fill="#c0c0c0"/>
<rect x="1046" y="615" width="1" height="38" fill="#c0c0c0"/>
<rect x="1054" y="615" width="1" height="30" fill="#c0c0c0"/>
<rect x="1062" y="615" width="1" height="24" fill="#c0c0c0"/>
<rect x="1070" y="615" width="1" height="16" fill="#c0c0c0"/>
<rect x="1078" y="615" width="1" height="10" fill="#c0c0c0"/>
<rect x="1086" y="615" width="1" height="4" fill="#c0c0c0"/>
<rect x="1094" y="615" width="1" height="1" fill="#c0c0c0"/>
<rect x="1102" y="611" width="1" height="5" fill="#c0c0c0"/>
<rect x="1110" y="602" width="1" height="14" fill="#c0c0c0"/>
<rect x="1118" y="593" width="1" height="23" fill="#c0c0c0"/>
<rect x="1126" y="587" width="1" height="29" fill="#c0c0c0"/>
<rect x="1134" y="597" width="1" height="19" fill="#c0c0c0"/>
<rect x="1142" y="606" width="1" height="10" fill="#c0c0c0"/>
<rect x="1150" y="614" width="1" height="2" fill="#c0c0c0"/>
<rect x="1158" y="615" width="1" height="3" fill="#c0c0c0"/>
<rect x="1166" y="615" width="1" height="3" fill="#c0c0c0"/>
<rect x="1174" y="615" width="1" height="2" fill="#c0c0c0"/>
<rect x="1182" y="615" width="1" height="8" fill="#c0c0c0"/>
<rect x="1190" y="615" width="1" height="13" fill="#c0c0c0"/>
<rect x="1198" y="615" width="1" height="18" fill="#c0c0c0"/>
<rect x="1206" y="615" width="1" height="23" fill="#c0c0c0"/>
<rect x="1214" y="615" width="1" height="32" fill="#c0c0c0"/>
<rect x="1222" y="615" width="1" height="42" fill="#c0c0c0"/>
<rect x="1230" y="615" width="1" height="48" fill="#c0c0c0"/>
<rect x="1238" y="615" width="1" height="52" fill="#c0c0c0"/>
<rect x="1246" y="615" width="1" height="54" fill="#c0c0c0"/>
<rect x="1254" y="615" width="1" height="52" fill="#c0c0c0"/>
<rect x="1262" y="615" width="1" height="48" fill="#c0c0c0"/>
<rect x="1270" y="615" width="1" height="44" fill="#c0c0c0"/>
<rect x="1278" y="615" width="1" height="38" fill="#c0c0c0"/>
<rect x="1286" y="615" width="1" height="32" fill="#c0c0c0"/>
<rect x="1294" y="615" width="1" height="24" fill="#c0c0c0"/>
<rect x="1302" y="615" width="1" height="22" fill="#c0c0c0"/>
<rect x="1310" y="615" width="1" height="22" fill="#c0c0c0"/>
<rect x="1318" y="615" width="1" height="19" fill="#c0c0c0"/>
<rect x="1326" y="615" width="1" height="15" fill="#c0c0c0"/>
<rect x="1334" y="615" width="1" height="10" fill="#c0c0c0"/>
<rect x="1342" y="615" width="1" height="8" fill="#c0c0c0"/>
<rect x="1350" y="615" width="1" height="4" fill="#c0c0c0"/>
<rect x="1358" y="615" width="1" height="4" fill="#c0c0c0"/>
<rect x="1366" y="615" width="1" height="4" fill="#c0c0c0"/>
<rect x="1374" y="615" width="1" height="5" fill="#c0c0c0"/>
<rect x="1382" y="615" width="1" height="12" fill="#c0c0c0"/>
<rect x="1390" y="615" width="1" height="15" fill="#c0c0c0"/>
<path d="M187 599.5h2M192 599.5h3M198 599.5h3M181 600.5h2M205 600.5h2M210 600.5h3M216 600.5h3M836 600.5h3M842 600.5h3M222 601.5h2M824 601.5h3M830 601.5h2M848 601.5h3M174 602.5h3M818 602.5h3M854 602.5h3M229 603.5h2M234 603.5h3M861 603.5h2M866 603.5h3M240 604.5h2M812 604.5h2M168 605.5h2M806 605.5h3M872 605.5h2M1148 605.5h3M1154 605.5h3M1160 605.5h3M1166 605.5h3M1172 605.5h3M246 606.5h3M801 606.5h2M1142 606.5h3M252 607.5h3M1137 607.5h2M1178 607.5h2M258 608.5h3M264 608.5h3M307 608.5h2M312 608.5h3M795 608.5h2M879 608.5h2M0 609.5h3M6 609.5h3M270 609.5h3M276 609.5h3M282 609.5h3M300 609.5h3M318 609.5h3M13 610.5h2M288 610.5h3M294 610.5h3M324 610.5h3M330 610.5h2M884 610.5h3M1184 610.5h2M18 611.5h3M788 611.5h2M156 612.5h2M336 612.5h2M24 613.5h2M783 613.5h2M891 613.5h2M1190 613.5h2M150 615.5h2M342 615.5h3M1124 615.5h2M30 616.5h2M348 616.5h3M776 616.5h2M1196 616.5h2M897 617.5h2M145 618.5h2M355 618.5h2M770 618.5h3M36 619.5h2M1202 619.5h2M360 620.5h3M1118 620.5h2M764 621.5h2M903 621.5h2M366 622.5h2M1208 622.5h2M43 623.5h2M1388 623.5h3M758 624.5h2M1376 624.5h3M1382 624.5h3M372 625.5h2M909 625.5h2M1112 625.5h2M1214 626.5h2M1370 626.5h2M378 627.5h3M1364 627.5h3M385 629.5h2M915 629.5h2M1359 629.5h2M390 630.5h3M1106 630.5h2M1220 630.5h2M747 631.5h2M397 632.5h2M921 632.5h2M1352 632.5h2M402 633.5h3M409 634.5h2M414 634.5h3M1227 634.5h2M420 635.5h3M426 635.5h3M1100 635.5h2M1346 635.5h2M60 636.5h2M432 636.5h3M438 637.5h3M1232 637.5h2M444 638.5h3M932 638.5h2M1340 638.5h2M450 639.5h3M456 639.5h3M66 640.5h2M462 640.5h3M735 640.5h2M1094 640.5h2M468 641.5h3M938 641.5h2M1238 641.5h2M1335 641.5h2M474 642.5h2M73 644.5h2M480 644.5h3M944 644.5h2M1328 645.5h2M1245 646.5h2M79 647.5h2M109 647.5h2M487 647.5h2M950 647.5h2M1323 648.5h2M85 649.5h2M102 649.5h3M91 650.5h2M96 650.5h3M493 650.5h2M956 650.5h2M1251 650.5h2M1317 651.5h2M498 652.5h2M962 653.5h2M1077 653.5h2M1257 654.5h2M1310 654.5h2M504 655.5h2M968 655.5h3M974 656.5h3M1305 656.5h2M980 657.5h3M1263 657.5h2M986 658.5h2M1070 658.5h2M510 660.5h2M993 660.5h2M1269 660.5h2M1298 660.5h2M998 661.5h3M1065 661.5h2M1274 662.5h3M1292 662.5h3M1005 663.5h2M1286 663.5h3M1010 664.5h3M1058 664.5h3M1281 664.5h2M1016 665.5h2M1052 665.5h3M1022 666.5h2M1046 666.5h3M1028 667.5h3M1040 667.5h3M1034 668.5h3M693 679.5h2M544 696.5h2M657 709.5h2M561 710.5h2M646 716.5h2M573 719.5h2M640 719.5h2M634 722.5h2M580 723.5h2M586 726.5h2M627 726.5h2M591 728.5h2M622 728.5h2M615 730.5h3M597 731.5h3M609 731.5h3M603 732.5h3M12.5 609v1M26.5 614v1M32.5 617v1M38.5 620v1M42.5 622v1M48.5 626v1M49.5 627v1M50.5 628v1M54.5 631v1M55.5 632v1M56.5 633v1M62.5 637v1M68.5 641v1M72.5 643v1M78.5 646v1M84.5 648v1M90.5 649v1M108.5 648v1M114.5 645v1M115.5 644v1M116.5 643v1M120.5 641v1M121.5 640v1M122.5 639v1M126.5 636v1M127.5 635v1M128.5 634v1M132.5 630v1M133.5 629v1M134.5 628v1M138.5 624v1M139.5 623v1M140.5 622v1M144.5 619v1M152.5 614v1M158.5 611v1M162.5 609v1M163.5 608v1M164.5 607v1M170.5 604v1M180.5 601v1M186.5 600v1M204.5 599v1M224.5 602v1M228.5 602v1M242.5 605v1M306.5 609v1M332.5 611v1M338.5 613v1M354.5 617v1M368.5 623v1M374.5 626v1M384.5 628v1M396.5 631v1M408.5 633v1M476.5 643v1M486.5 646v1M492.5 649v1M500.5 653v1M506.5 656v1M512.5 661v1M516.5 665v1M517.5 666v1M518.5 667v1M521.5 671v1M522.5 672v1M523.5 673v1M527.5 677v1M528.5 678v1M529.5 679v1M532.5 683v1M533.5 684v1M534.5 685v1M537.5 689v1M538.5 690v1M539.5 691v1M543.5 695v1M549.5 700v1M550.5 701v1M551.5 702v1M555.5 705v1M556.5 706v1M557.5 707v1M563.5 711v1M567.5 714v1M568.5 715v1M569.5 716v1M575.5 720v1M579.5 722v1M585.5 725v1M593.5 729v1M621.5 729v1M629.5 725v1M633.5 723v1M639.5 720v1M645.5 717v1M651.5 714v1M652.5 713v1M653.5 712v1M659.5 708v1M663.5 705v1M664.5 704v1M665.5 703v1M669.5 700v1M670.5 699v1M671.5 698v1M675.5 695v1M676.5 694v1M677.5 693v1M681.5 689v1M682.5 688v1M683.5 687v1M687.5 684v1M688.5 683v1M689.5 682v1M695.5 678v1M699.5 673v2M700.5 672v1M704.5 668v1M705.5 667v1M706.5 666v1M710.5 662v1M711.5 661v1M712.5 660v1M716.5 656v1M717.5 655v1M718.5 654v1M722.5 651v1M723.5 650v1M724.5 649v1M728.5 646v1M729.5 645v1M730.5 644v1M734.5 641v1M740.5 637v1M741.5 636v1M742.5 635v1M746.5 632v1M752.5 628v1M753.5 627v1M754.5 626v1M760.5 623v1M766.5 620v1M778.5 615v1M782.5 614v1M790.5 610v1M794.5 609v1M800.5 607v1M814.5 603v1M832.5 600v1M860.5 602v1M874.5 606v1M878.5 607v1M890.5 612v1M896.5 616v1M902.5 620v1M908.5 624v1M914.5 628v1M920.5 631v1M926.5 634v1M927.5 635v1M928.5 636v1M934.5 639v1M940.5 642v1M946.5 645v1M952.5 648v1M958.5 651v1M964.5 654v1M988.5 659v1M992.5 659v1M1004.5 662v1M1018.5 666v1M1024.5 667v1M1064.5 662v1M1072.5 657v1M1076.5 654v1M1082.5 650v1M1083.5 649v1M1084.5 648v1M1088.5 645v1M1089.5 644v1M1090.5 643v1M1096.5 639v1M1102.5 634v1M1108.5 629v1M1114.5 624v1M1120.5 619v1M1126.5 614v1M1130.5 611v1M1131.5 610v1M1132.5 609v1M1136.5 608v1M1180.5 608v1M1186.5 611v1M1192.5 614v1M1198.5 617v1M1204.5 620v1M1210.5 623v1M1216.5 627v1M1222.5 631v1M1226.5 633v1M1234.5 638v1M1240.5 642v1M1244.5 645v1M1250.5 649v1M1256.5 653v1M1262.5 656v1M1268.5 659v1M1280.5 663v1M1300.5 659v1M1304.5 657v1M1312.5 653v1M1316.5 652v1M1322.5 649v1M1330.5 644v1M1334.5 642v1M1342.5 637v1M1348.5 634v1M1354.5 631v1M1358.5 630v1M1372.5 625v1" stroke="#ff0000" stroke-width="1" fill="none"/>
</g>
<g clip-path="url(#cr)" shape-rendering="crispEdges">
<line x1="-1" y1="785.5" x2="1657" y2="785.5" stroke="#c0c0c0" stroke-width="1" stroke-dasharray="3 3"/>
<line x1="-1" y1="836.5" x2="1657" y2="836.5" stroke="#c0c0c0" stroke-width="1" stroke-dasharray="3 3"/>
<line x1="-1" y1="897.5" x2="1657" y2="897.5" stroke="#c0c0c0" stroke-width="1" stroke-dasharray="3 3"/>
<path d="M1116 804.5h2M1119 804.5h2M1114 805.5h2M1121 805.5h2M1112 806.5h2M1110 807.5h2M1124 807.5h2M125 817.5h3M301 817.5h2M121 818.5h4M128 818.5h3M117 819.5h4M131 819.5h2M780 819.5h2M783 819.5h2M115 820.5h2M133 820.5h4M778 820.5h2M785 820.5h2M112 821.5h3M137 821.5h4M776 821.5h2M1100 821.5h2M110 822.5h2M141 822.5h2M774 822.5h2M788 822.5h2M795 822.5h4M1098 822.5h2M143 823.5h2M790 823.5h5M1096 823.5h2M83 824.5h6M107 824.5h2M270 824.5h9M699 824.5h2M758 824.5h2M771 824.5h2M1083 824.5h13M78 825.5h5M89 825.5h4M279 825.5h2M760 825.5h2M815 825.5h2M1046 825.5h2M1075 825.5h8M93 826.5h4M147 826.5h2M212 826.5h3M281 826.5h2M292 826.5h2M762 826.5h2M811 826.5h2M1070 826.5h5M97 827.5h4M103 827.5h2M210 827.5h2M290 827.5h2M695 827.5h2M764 827.5h2M767 827.5h2M1049 827.5h2M101 828.5h2M150 828.5h3M165 828.5h2M208 828.5h2M284 828.5h2M288 828.5h2M741 828.5h3M819 828.5h2M153 829.5h4M161 829.5h4M167 829.5h2M206 829.5h2M286 829.5h2M739 829.5h2M744 829.5h2M807 829.5h2M827 829.5h4M1350 829.5h2M157 830.5h4M169 830.5h2M723 830.5h8M736 830.5h3M746 830.5h2M822 830.5h5M1286 830.5h5M1352 830.5h2M715 831.5h8M731 831.5h5M748 831.5h2M1054 831.5h2M1291 831.5h4M1354 831.5h2M172 832.5h2M710 832.5h5M1056 832.5h3M1283 832.5h2M1326 832.5h3M1356 832.5h2M174 833.5h11M1059 833.5h2M1329 833.5h2M1358 833.5h2M185 834.5h4M1061 834.5h2M1360 834.5h3M189 835.5h4M1279 835.5h2M1332 835.5h2M1363 835.5h2M3 836.5h4M193 836.5h4M259 836.5h2M1334 836.5h5M1365 836.5h3M-2 837.5h5M197 837.5h2M246 837.5h2M1339 837.5h4M1368 837.5h2M244 838.5h2M248 838.5h3M460 838.5h3M662 838.5h5M1275 838.5h2M1370 838.5h2M242 839.5h2M251 839.5h2M255 839.5h2M458 839.5h2M667 839.5h5M685 839.5h2M846 839.5h2M1169 839.5h2M1372 839.5h2M240 840.5h2M253 840.5h2M456 840.5h2M672 840.5h3M683 840.5h2M848 840.5h2M1302 840.5h5M222 841.5h5M235 841.5h5M454 841.5h2M675 841.5h2M680 841.5h3M850 841.5h2M1271 841.5h2M1307 841.5h4M227 842.5h8M452 842.5h2M677 842.5h3M852 842.5h2M859 842.5h4M854 843.5h5M365 844.5h4M449 844.5h2M1313 844.5h2M361 845.5h4M369 845.5h4M447 845.5h2M865 845.5h2M350 846.5h11M373 846.5h4M377 847.5h4M444 847.5h2M838 847.5h2M1317 847.5h2M381 848.5h4M442 848.5h2M385 849.5h4M440 849.5h2M870 849.5h2M1134 849.5h5M1147 849.5h6M14 850.5h9M389 850.5h4M438 850.5h2M872 850.5h2M1139 850.5h8M1153 850.5h4M1182 850.5h5M393 851.5h4M874 851.5h2M1157 851.5h2M1187 851.5h12M334 852.5h2M397 852.5h2M876 852.5h2M1382 852.5h9M332 853.5h2M336 853.5h2M330 854.5h2M338 854.5h2M328 855.5h2M340 855.5h2M651 855.5h2M326 856.5h2M614 856.5h2M324 857.5h2M616 857.5h3M322 858.5h2M427 858.5h4M619 858.5h2M647 858.5h2M918 858.5h2M320 859.5h2M422 859.5h5M621 859.5h2M920 859.5h2M318 860.5h2M623 860.5h2M922 860.5h2M924 861.5h2M1230 862.5h2M1246 862.5h2M627 863.5h2M927 863.5h2M1232 863.5h2M1244 863.5h2M1248 863.5h2M62 864.5h9M1234 864.5h2M1242 864.5h2M1250 864.5h2M60 865.5h2M630 865.5h2M1236 865.5h2M1240 865.5h2M1252 865.5h2M58 866.5h2M603 866.5h2M632 866.5h3M893 866.5h4M931 866.5h2M1238 866.5h2M45 867.5h6M56 867.5h2M635 867.5h2M889 867.5h4M897 867.5h4M907 867.5h4M1214 867.5h2M43 868.5h2M51 868.5h5M637 868.5h2M886 868.5h3M901 868.5h6M934 868.5h2M950 868.5h5M1216 868.5h2M40 869.5h3M599 869.5h2M936 869.5h2M948 869.5h2M955 869.5h5M972 869.5h2M1218 869.5h2M38 870.5h2M486 870.5h2M938 870.5h2M946 870.5h2M960 870.5h3M970 870.5h2M1220 870.5h2M36 871.5h2M488 871.5h3M940 871.5h2M944 871.5h2M963 871.5h2M968 871.5h2M34 872.5h2M491 872.5h2M942 872.5h2M965 872.5h3M32 873.5h2M493 873.5h2M30 874.5h2M990 874.5h3M993 875.5h4M997 876.5h4M1001 877.5h4M470 878.5h9M1005 878.5h11M1016 879.5h2M1018 880.5h2M526 881.5h5M1020 881.5h2M531 882.5h6M537 883.5h4M502 884.5h3M541 884.5h3M505 885.5h4M521 885.5h2M544 885.5h2M509 886.5h4M546 886.5h2M513 887.5h4M548 887.5h2M587 887.5h2M517 888.5h2M551 889.5h2M573 889.5h4M553 890.5h2M569 890.5h4M577 890.5h4M583 890.5h2M565 891.5h4M581 891.5h2M556 892.5h2M561 892.5h4M558 893.5h3M7.5 837v2M8.5 839v2M9.5 841v2M10.5 843v1M11.5 844v2M12.5 846v2M13.5 848v2M22.5 851v1M23.5 852v3M24.5 855v3M25.5 858v3M26.5 861v3M27.5 864v3M28.5 867v3M29.5 870v3M30.5 873v1M70.5 862v2M71.5 857v5M72.5 852v5M73.5 847v5M74.5 843v4M75.5 838v5M76.5 833v5M77.5 828v5M78.5 826v2M105.5 826v1M106.5 825v1M109.5 823v1M145.5 824v1M146.5 825v1M149.5 827v1M171.5 831v1M199.5 836v1M200.5 835v1M201.5 834v1M202.5 833v1M203.5 832v1M204.5 831v1M205.5 830v1M214.5 825v1M215.5 827v2M216.5 829v2M217.5 831v2M218.5 833v2M219.5 835v2M220.5 837v2M221.5 839v2M257.5 838v1M258.5 837v1M261.5 835v1M262.5 834v1M263.5 833v1M264.5 831v2M265.5 830v1M266.5 829v1M267.5 828v1M268.5 826v2M269.5 825v1M283.5 827v1M294.5 825v1M295.5 824v1M296.5 823v1M297.5 822v1M298.5 820v2M299.5 819v1M300.5 818v1M302.5 816v1M303.5 818v3M304.5 821v3M305.5 824v3M306.5 827v4M307.5 831v3M308.5 834v3M309.5 837v3M310.5 840v3M311.5 843v2M312.5 845v2M313.5 847v3M314.5 850v2M315.5 852v3M316.5 855v2M317.5 857v2M318.5 859v1M342.5 856v1M343.5 855v1M344.5 853v2M345.5 852v1M346.5 851v1M347.5 850v1M348.5 848v2M349.5 847v1M399.5 853v1M400.5 854v1M401.5 855v1M402.5 856v1M403.5 857v1M404.5 858v1M405.5 859v1M406.5 860v1M407.5 861v1M408.5 862v1M409.5 863v1M410.5 864v1M411.5 865v1M412.5 866v1M413.5 867v1M414.5 868v1M415.5 867v1M416.5 866v1M417.5 865v1M418.5 863v2M419.5 862v1M420.5 861v1M421.5 860v1M431.5 857v1M432.5 856v1M433.5 855v1M434.5 854v1M435.5 853v1M436.5 852v1M437.5 851v1M446.5 846v1M451.5 843v1M462.5 837v1M462.5 839v1M463.5 840v5M464.5 845v5M465.5 850v5M466.5 855v6M467.5 861v5M468.5 866v5M469.5 871v5M470.5 876v2M479.5 877v1M480.5 876v1M481.5 875v1M482.5 874v1M483.5 873v1M484.5 872v1M485.5 871v1M495.5 874v2M496.5 876v1M497.5 877v1M498.5 878v2M499.5 880v1M500.5 881v1M501.5 882v2M519.5 887v1M520.5 886v1M523.5 884v1M524.5 883v1M525.5 882v1M550.5 888v1M555.5 891v1M585.5 889v1M586.5 888v1M589.5 886v1M590.5 885v1M591.5 883v2M592.5 881v2M593.5 879v2M594.5 877v2M595.5 875v2M596.5 873v2M597.5 871v2M598.5 870v1M601.5 868v1M602.5 867v1M605.5 865v1M606.5 864v1M607.5 863v1M608.5 862v1M609.5 861v1M610.5 860v1M611.5 859v1M612.5 858v1M613.5 857v1M625.5 861v1M626.5 862v1M629.5 864v1M639.5 867v1M640.5 866v1M641.5 865v1M642.5 863v2M643.5 862v1M644.5 861v1M645.5 860v1M646.5 859v1M649.5 857v1M650.5 856v1M653.5 854v1M654.5 853v1M655.5 851v2M656.5 849v2M657.5 847v2M658.5 845v2M659.5 843v2M660.5 841v2M661.5 839v2M687.5 837v2M688.5 836v1M689.5 835v1M690.5 833v2M691.5 832v1M692.5 831v1M693.5 829v2M694.5 828v1M697.5 826v1M698.5 825v1M701.5 823v1M702.5 822v1M703.5 823v1M704.5 824v2M705.5 826v1M706.5 827v1M707.5 828v1M708.5 829v2M709.5 831v1M750.5 832v1M751.5 831v1M752.5 830v1M753.5 829v1M754.5 828v1M755.5 827v1M756.5 826v1M757.5 825v1M766.5 828v1M769.5 826v1M770.5 825v1M773.5 823v1M782.5 818v1M787.5 821v1M799.5 823v1M800.5 824v1M801.5 825v1M802.5 826v1M803.5 827v1M804.5 828v1M805.5 829v1M806.5 830v1M809.5 828v1M810.5 827v1M813.5 825v1M814.5 824v1M817.5 826v1M818.5 827v1M821.5 829v1M830.5 830v1M831.5 831v2M832.5 833v2M833.5 835v3M834.5 838v2M835.5 840v3M836.5 843v2M837.5 845v2M838.5 848v1M840.5 846v1M841.5 845v1M842.5 843v2M843.5 842v1M844.5 841v1M845.5 840v1M863.5 843v1M864.5 844v1M867.5 846v1M868.5 847v1M869.5 848v1M878.5 853v1M879.5 854v2M880.5 856v2M881.5 858v2M882.5 860v2M883.5 862v2M884.5 864v2M885.5 866v2M911.5 866v1M912.5 865v1M913.5 864v1M914.5 862v2M915.5 861v1M916.5 860v1M917.5 859v1M926.5 862v1M929.5 864v1M930.5 865v1M933.5 867v1M974.5 868v1M975.5 867v1M976.5 866v1M977.5 865v1M978.5 864v1M979.5 863v1M980.5 862v1M981.5 861v1M982.5 860v1M983.5 861v2M984.5 863v2M985.5 865v2M986.5 867v1M987.5 868v2M988.5 870v2M989.5 872v2M1022.5 882v1M1023.5 880v2M1024.5 878v2M1025.5 877v1M1026.5 875v2M1027.5 874v1M1028.5 872v2M1029.5 870v2M1030.5 868v2M1031.5 864v4M1032.5 861v3M1033.5 857v4M1034.5 854v3M1035.5 850v4M1036.5 847v3M1037.5 843v4M1038.5 840v3M1039.5 838v2M1040.5 836v2M1041.5 834v2M1042.5 832v2M1043.5 830v2M1044.5 828v2M1045.5 826v2M1046.5 824v1M1048.5 826v1M1051.5 828v1M1052.5 829v1M1053.5 830v1M1063.5 833v1M1064.5 832v1M1065.5 831v1M1066.5 830v1M1067.5 829v1M1068.5 828v1M1069.5 827v1M1102.5 820v1M1103.5 818v2M1104.5 816v2M1105.5 815v1M1106.5 813v2M1107.5 812v1M1108.5 810v2M1109.5 808v2M1118.5 803v1M1123.5 806v1M1126.5 808v3M1127.5 811v5M1128.5 816v5M1129.5 821v5M1130.5 826v6M1131.5 832v5M1132.5 837v5M1133.5 842v5M1134.5 847v2M1159.5 850v1M1160.5 849v1M1161.5 848v1M1162.5 846v2M1163.5 845v1M1164.5 844v1M1165.5 843v1M1166.5 842v1M1167.5 841v1M1168.5 840v1M1171.5 838v1M1172.5 837v1M1173.5 836v1M1174.5 835v1M1175.5 836v2M1176.5 838v2M1177.5 840v2M1178.5 842v2M1179.5 844v2M1180.5 846v2M1181.5 848v2M1199.5 852v1M1200.5 853v1M1201.5 854v1M1202.5 855v1M1203.5 856v1M1204.5 857v1M1205.5 858v1M1206.5 859v1M1207.5 860v1M1208.5 861v1M1209.5 862v1M1210.5 863v1M1211.5 864v1M1212.5 865v1M1213.5 866v1M1222.5 871v1M1223.5 870v1M1224.5 869v1M1225.5 868v1M1226.5 866v2M1227.5 865v1M1228.5 864v1M1229.5 863v1M1254.5 866v1M1255.5 865v1M1256.5 863v2M1257.5 862v1M1258.5 861v1M1259.5 860v1M1260.5 858v2M1261.5 857v1M1262.5 856v1M1263.5 854v2M1264.5 852v2M1265.5 850v2M1266.5 849v1M1267.5 847v2M1268.5 845v2M1269.5 843v2M1270.5 842v1M1273.5 840v1M1274.5 839v1M1277.5 837v1M1278.5 836v1M1281.5 834v1M1282.5 833v1M1285.5 831v1M1295.5 832v1M1296.5 833v1M1297.5 834v1M1298.5 835v2M1299.5 837v1M1300.5 838v1M1301.5 839v1M1311.5 842v1M1312.5 843v1M1315.5 845v1M1316.5 846v1M1318.5 848v1M1319.5 845v2M1320.5 843v2M1321.5 841v2M1322.5 839v2M1323.5 837v2M1324.5 835v2M1325.5 833v2M1326.5 831v1M1331.5 834v1M1343.5 836v1M1344.5 835v1M1345.5 834v1M1346.5 833v1M1347.5 832v1M1348.5 831v1M1349.5 830v1M1374.5 840v1M1375.5 841v2M1376.5 843v1M1377.5 844v2M1378.5 846v1M1379.5 847v2M1380.5 849v1M1381.5 850v2" stroke="#1e90ff" stroke-width="1" fill="none"/>
</g>
<g shape-rendering="crispEdges" fill="#000">
<rect x="0" y="22" width="1657" height="1"/>
<rect x="0" y="575" width="1657" height="1"/>
<rect x="0" y="577" width="1657" height="1"/>
<rect x="0" y="747" width="1657" height="1"/>
<rect x="0" y="749" width="1657" height="1"/>
<rect x="0" y="923" width="1657" height="1"/>
<rect x="1656" y="22" width="1" height="554"/>
<rect x="1656" y="577" width="1" height="171"/>
<rect x="1656" y="749" width="1" height="175"/>
<rect x="1657" y="44" width="3" height="1"/>
<rect x="1657" y="77" width="3" height="1"/>
<rect x="1657" y="110" width="3" height="1"/>
<rect x="1657" y="143" width="3" height="1"/>
<rect x="1657" y="176" width="3" height="1"/>
<rect x="1657" y="209" width="3" height="1"/>
<rect x="1657" y="242" width="3" height="1"/>
<rect x="1657" y="275" width="3" height="1"/>
<rect x="1657" y="308" width="3" height="1"/>
<rect x="1657" y="341" width="3" height="1"/>
<rect x="1657" y="374" width="3" height="1"/>
<rect x="1657" y="407" width="3" height="1"/>
<rect x="1657" y="440" width="3" height="1"/>
<rect x="1657" y="473" width="3" height="1"/>
<rect x="1657" y="506" width="3" height="1"/>
<rect x="1657" y="539" width="3" height="1"/>
<rect x="1657" y="572" width="3" height="1"/>
<rect x="1657" y="579" width="2" height="1"/>
<rect x="1657" y="615" width="2" height="1"/>
<rect x="62" y="924" width="1" height="3"/>
<rect x="126" y="924" width="1" height="3"/>
<rect x="190" y="924" width="1" height="3"/>
<rect x="254" y="924" width="1" height="3"/>
<rect x="318" y="924" width="1" height="3"/>
<rect x="382" y="924" width="1" height="3"/>
<rect x="446" y="924" width="1" height="3"/>
<rect x="510" y="924" width="1" height="3"/>
<rect x="574" y="924" width="1" height="3"/>
<rect x="638" y="924" width="1" height="3"/>
<rect x="702" y="924" width="1" height="3"/>
<rect x="766" y="924" width="1" height="3"/>
<rect x="830" y="924" width="1" height="3"/>
<rect x="894" y="924" width="1" height="3"/>
<rect x="958" y="924" width="1" height="3"/>
<rect x="1022" y="924" width="1" height="3"/>
<rect x="1086" y="924" width="1" height="3"/>
<rect x="1150" y="924" width="1" height="3"/>
<rect x="1214" y="924" width="1" height="3"/>
<rect x="1278" y="924" width="1" height="3"/>
<rect x="1342" y="924" width="1" height="3"/>
</g>
<text x="1662" y="48" font-size="9.6" fill="#000" stroke="#000" stroke-width="0.15" textLength="33" lengthAdjust="spacingAndGlyphs">0.77790</text>
<text x="1662" y="81" font-size="9.6" fill="#000" stroke="#000" stroke-width="0.15" textLength="33" lengthAdjust="spacingAndGlyphs">0.77555</text>
<text x="1662" y="114" font-size="9.6" fill="#000" stroke="#000" stroke-width="0.15" textLength="33" lengthAdjust="spacingAndGlyphs">0.77320</text>
<text x="1662" y="147" font-size="9.6" fill="#000" stroke="#000" stroke-width="0.15" textLength="33" lengthAdjust="spacingAndGlyphs">0.77080</text>
<text x="1662" y="180" font-size="9.6" fill="#000" stroke="#000" stroke-width="0.15" textLength="33" lengthAdjust="spacingAndGlyphs">0.76845</text>
<text x="1662" y="213" font-size="9.6" fill="#000" stroke="#000" stroke-width="0.15" textLength="33" lengthAdjust="spacingAndGlyphs">0.76610</text>
<text x="1662" y="246" font-size="9.6" fill="#000" stroke="#000" stroke-width="0.15" textLength="33" lengthAdjust="spacingAndGlyphs">0.76375</text>
<text x="1662" y="279" font-size="9.6" fill="#000" stroke="#000" stroke-width="0.15" textLength="33" lengthAdjust="spacingAndGlyphs">0.76135</text>
<text x="1662" y="312" font-size="9.6" fill="#000" stroke="#000" stroke-width="0.15" textLength="33" lengthAdjust="spacingAndGlyphs">0.75900</text>
<text x="1662" y="345" font-size="9.6" fill="#000" stroke="#000" stroke-width="0.15" textLength="33" lengthAdjust="spacingAndGlyphs">0.75665</text>
<text x="1662" y="378" font-size="9.6" fill="#000" stroke="#000" stroke-width="0.15" textLength="33" lengthAdjust="spacingAndGlyphs">0.75425</text>
<text x="1662" y="411" font-size="9.6" fill="#000" stroke="#000" stroke-width="0.15" textLength="33" lengthAdjust="spacingAndGlyphs">0.75190</text>
<text x="1662" y="444" font-size="9.6" fill="#000" stroke="#000" stroke-width="0.15" textLength="33" lengthAdjust="spacingAndGlyphs">0.74955</text>
<text x="1662" y="477" font-size="9.6" fill="#000" stroke="#000" stroke-width="0.15" textLength="33" lengthAdjust="spacingAndGlyphs">0.74715</text>
<text x="1662" y="510" font-size="9.6" fill="#000" stroke="#000" stroke-width="0.15" textLength="33" lengthAdjust="spacingAndGlyphs">0.74480</text>
<text x="1662" y="543" font-size="9.6" fill="#000" stroke="#000" stroke-width="0.15" textLength="33" lengthAdjust="spacingAndGlyphs">0.74245</text>
<text x="1662" y="576" font-size="9.6" fill="#000" stroke="#000" stroke-width="0.15" textLength="33" lengthAdjust="spacingAndGlyphs">0.74005</text>
<rect x="1658" y="448" width="41" height="11" fill="#ff0000" shape-rendering="crispEdges"/>
<text x="1662" y="457" font-size="9.6" fill="#fff" textLength="33" lengthAdjust="spacingAndGlyphs">0.74856</text>
<rect x="1658" y="472" width="41" height="11" fill="#ff0000" shape-rendering="crispEdges"/>
<text x="1662" y="481" font-size="9.6" fill="#fff" textLength="33" lengthAdjust="spacingAndGlyphs">0.74684</text>
<rect x="1658" y="491" width="41" height="11" fill="#ffa500" shape-rendering="crispEdges"/>
<text x="1662" y="500" font-size="9.6" fill="#fff" textLength="33" lengthAdjust="spacingAndGlyphs">0.74548</text>
<rect x="1658" y="507" width="41" height="11" fill="#000000" shape-rendering="crispEdges"/>
<text x="1662" y="516" font-size="9.6" fill="#fff" textLength="33" lengthAdjust="spacingAndGlyphs">0.74435</text>
<rect x="1658" y="533" width="41" height="11" fill="#0000ff" shape-rendering="crispEdges"/>
<text x="1662" y="542" font-size="9.6" fill="#fff" textLength="33" lengthAdjust="spacingAndGlyphs">0.74245</text>
<rect x="1658" y="555" width="41" height="11" fill="#0000ff" shape-rendering="crispEdges"/>
<text x="1662" y="564" font-size="9.6" fill="#fff" textLength="33" lengthAdjust="spacingAndGlyphs">0.74090</text>
<text x="1660" y="588" font-size="9.6" fill="#000" stroke="#000" stroke-width="0.15" textLength="38" lengthAdjust="spacingAndGlyphs">0.001559</text>
<text x="1660" y="619" font-size="9.6" fill="#000" stroke="#000" stroke-width="0.15">0.00</text>
<text x="1660" y="744" font-size="9.6" fill="#000" stroke="#000" stroke-width="0.15" textLength="41" lengthAdjust="spacingAndGlyphs">-0.005634</text>
<text x="1659" y="760" font-size="9.6" fill="#000" stroke="#000" stroke-width="0.15">100</text>
<text x="1659" y="789" font-size="9.6" fill="#000" stroke="#000" stroke-width="0.15">80</text>
<text x="1659" y="840" font-size="9.6" fill="#000" stroke="#000" stroke-width="0.15">50</text>
<text x="1659" y="901" font-size="9.6" fill="#000" stroke="#000" stroke-width="0.15">15</text>
<text x="1659" y="920" font-size="9.6" fill="#000" stroke="#000" stroke-width="0.15">0</text>
<text x="-3" y="935" font-size="9.6" fill="#000" stroke="#000" stroke-width="0.15" textLength="44" lengthAdjust="spacingAndGlyphs">2 Jun 2021</text>
<text x="61" y="935" font-size="9.6" fill="#000" stroke="#000" stroke-width="0.15" textLength="48" lengthAdjust="spacingAndGlyphs">4 Jun 04:00</text>
<text x="125" y="935" font-size="9.6" fill="#000" stroke="#000" stroke-width="0.15" textLength="48" lengthAdjust="spacingAndGlyphs">7 Jun 12:00</text>
<text x="189" y="935" font-size="9.6" fill="#000" stroke="#000" stroke-width="0.15" textLength="48" lengthAdjust="spacingAndGlyphs">8 Jun 20:00</text>
<text x="253" y="935" font-size="9.6" fill="#000" stroke="#000" stroke-width="0.15" textLength="52.6" lengthAdjust="spacingAndGlyphs">10 Jun 04:00</text>
<text x="317" y="935" font-size="9.6" fill="#000" stroke="#000" stroke-width="0.15" textLength="52.6" lengthAdjust="spacingAndGlyphs">11 Jun 12:00</text>
<text x="381" y="935" font-size="9.6" fill="#000" stroke="#000" stroke-width="0.15" textLength="52.6" lengthAdjust="spacingAndGlyphs">14 Jun 20:00</text>
<text x="445" y="935" font-size="9.6" fill="#000" stroke="#000" stroke-width="0.15" textLength="52.6" lengthAdjust="spacingAndGlyphs">16 Jun 04:00</text>
<text x="509" y="935" font-size="9.6" fill="#000" stroke="#000" stroke-width="0.15" textLength="52.6" lengthAdjust="spacingAndGlyphs">17 Jun 12:00</text>
<text x="573" y="935" font-size="9.6" fill="#000" stroke="#000" stroke-width="0.15" textLength="52.6" lengthAdjust="spacingAndGlyphs">20 Jun 23:00</text>
<text x="637" y="935" font-size="9.6" fill="#000" stroke="#000" stroke-width="0.15" textLength="52.6" lengthAdjust="spacingAndGlyphs">22 Jun 04:00</text>
<text x="701" y="935" font-size="9.6" fill="#000" stroke="#000" stroke-width="0.15" textLength="52.6" lengthAdjust="spacingAndGlyphs">23 Jun 12:00</text>
<text x="765" y="935" font-size="9.6" fill="#000" stroke="#000" stroke-width="0.15" textLength="52.6" lengthAdjust="spacingAndGlyphs">24 Jun 20:00</text>
<text x="829" y="935" font-size="9.6" fill="#000" stroke="#000" stroke-width="0.15" textLength="52.6" lengthAdjust="spacingAndGlyphs">28 Jun 04:00</text>
<text x="893" y="935" font-size="9.6" fill="#000" stroke="#000" stroke-width="0.15" textLength="52.6" lengthAdjust="spacingAndGlyphs">29 Jun 12:00</text>
<text x="957" y="935" font-size="9.6" fill="#000" stroke="#000" stroke-width="0.15" textLength="52.6" lengthAdjust="spacingAndGlyphs">30 Jun 20:00</text>
<text x="1021" y="935" font-size="9.6" fill="#000" stroke="#000" stroke-width="0.15" textLength="45" lengthAdjust="spacingAndGlyphs">2 Jul 04:00</text>
<text x="1085" y="935" font-size="9.6" fill="#000" stroke="#000" stroke-width="0.15" textLength="45" lengthAdjust="spacingAndGlyphs">5 Jul 12:00</text>
<text x="1149" y="935" font-size="9.6" fill="#000" stroke="#000" stroke-width="0.15" textLength="45" lengthAdjust="spacingAndGlyphs">6 Jul 20:00</text>
<text x="1213" y="935" font-size="9.6" fill="#000" stroke="#000" stroke-width="0.15" textLength="45" lengthAdjust="spacingAndGlyphs">8 Jul 04:00</text>
<text x="1277" y="935" font-size="9.6" fill="#000" stroke="#000" stroke-width="0.15" textLength="45" lengthAdjust="spacingAndGlyphs">9 Jul 12:00</text>
<text x="1341" y="935" font-size="9.6" fill="#000" stroke="#000" stroke-width="0.15" textLength="49.6" lengthAdjust="spacingAndGlyphs">12 Jul 20:00</text>
<text x="13.5" y="34" font-size="9.6" fill="#000" stroke="#000" stroke-width="0.15" textLength="205" lengthAdjust="spacingAndGlyphs" xml:space="preserve" style="white-space:pre">AUDUSD-,H4  0.74432 0.74457 0.74411 0.74435</text>
<polygon points="1.5,33 8.5,33 5,29" fill="#000"/>
<text x="2.5" y="590" font-size="9.6" fill="#000" stroke="#000" stroke-width="0.15" textLength="153" lengthAdjust="spacingAndGlyphs">MACD(12,26,9) -0.000575 -0.000348</text>
<text x="2.5" y="762" font-size="9.6" fill="#000" stroke="#000" stroke-width="0.15" textLength="67" lengthAdjust="spacingAndGlyphs">RSI(14) 41.0418</text>
<defs><linearGradient id="gb" x1="0" y1="0" x2="0" y2="1"><stop offset="0" stop-color="#f95656"/><stop offset="1" stop-color="#e43434"/></linearGradient><linearGradient id="gl" x1="0" y1="0" x2="0" y2="1"><stop offset="0" stop-color="#dd2f2f"/><stop offset="0.55" stop-color="#cc1c1c"/><stop offset="1" stop-color="#ad0000"/></linearGradient><linearGradient id="gs" x1="0" y1="0" x2="0" y2="1"><stop offset="0" stop-color="#f4f4f4"/><stop offset="0.5" stop-color="#e2e2e4"/><stop offset="0.5" stop-color="#d2d2d6"/><stop offset="1" stop-color="#dcdcde"/></linearGradient></defs><g shape-rendering="crispEdges"><rect x="0" y="41" width="221" height="60" fill="#fff"/><rect x="1" y="42" width="52" height="25" fill="url(#gb)"/><rect x="168" y="42" width="52" height="25" fill="url(#gb)"/><rect x="1" y="66" width="109" height="33" fill="url(#gl)"/><rect x="112" y="66" width="108" height="33" fill="url(#gl)"/><rect x="1" y="42" width="52" height="1" fill="#d63030"/><rect x="168" y="42" width="52" height="1" fill="#d63030"/><rect x="5" y="65" width="44" height="1" fill="#ff8a8a"/><rect x="5" y="66" width="44" height="1" fill="#b81414"/><rect x="172" y="65" width="44" height="1" fill="#ff8a8a"/><rect x="172" y="66" width="44" height="1" fill="#b81414"/><rect x="55.500" y="42.500" width="110" height="21" rx="2" fill="#fff" stroke="#aab0bc"/><rect x="56.500" y="43.500" width="19" height="19" fill="url(#gs)" stroke="#c4c6cc"/><rect x="145.500" y="43.500" width="19" height="19" fill="url(#gs)" stroke="#c4c6cc"/></g><polygon points="63.300,50.800 68.300,50.800 65.800,53.600" fill="#4a62c0"/><polygon points="152.300,53.400 157.300,53.400 154.800,50.600" fill="#6a7cc8"/><text x="140.500" y="56.600" font-size="11.600" fill="#101010" text-anchor="end">1.00</text><text x="13.200" y="57.800" font-size="12" fill="#fff" textLength="25.700" lengthAdjust="spacingAndGlyphs">SELL</text><text x="181.700" y="57.800" font-size="12" fill="#fff" textLength="22.200" lengthAdjust="spacingAndGlyphs">BUY</text><text x="20.6" y="93.900" font-size="12" font-weight="bold" fill="#fff" textLength="24.200" lengthAdjust="spacingAndGlyphs">0.74</text><text x="47.6" y="94.300" font-size="33.500" fill="#fff" textLength="34.500" lengthAdjust="spacingAndGlyphs">43</text><text x="88.7" y="77.600" font-size="10" font-weight="bold" fill="#fff">5</text><text x="130.9" y="93.900" font-size="12" font-weight="bold" fill="#fff" textLength="24.200" lengthAdjust="spacingAndGlyphs">0.74</text><text x="157.9" y="94.300" font-size="33.500" fill="#fff" textLength="34.500" lengthAdjust="spacingAndGlyphs">48</text><text x="199.0" y="77.600" font-size="10" font-weight="bold" fill="#fff">0</text>
</svg>

</body></html>
